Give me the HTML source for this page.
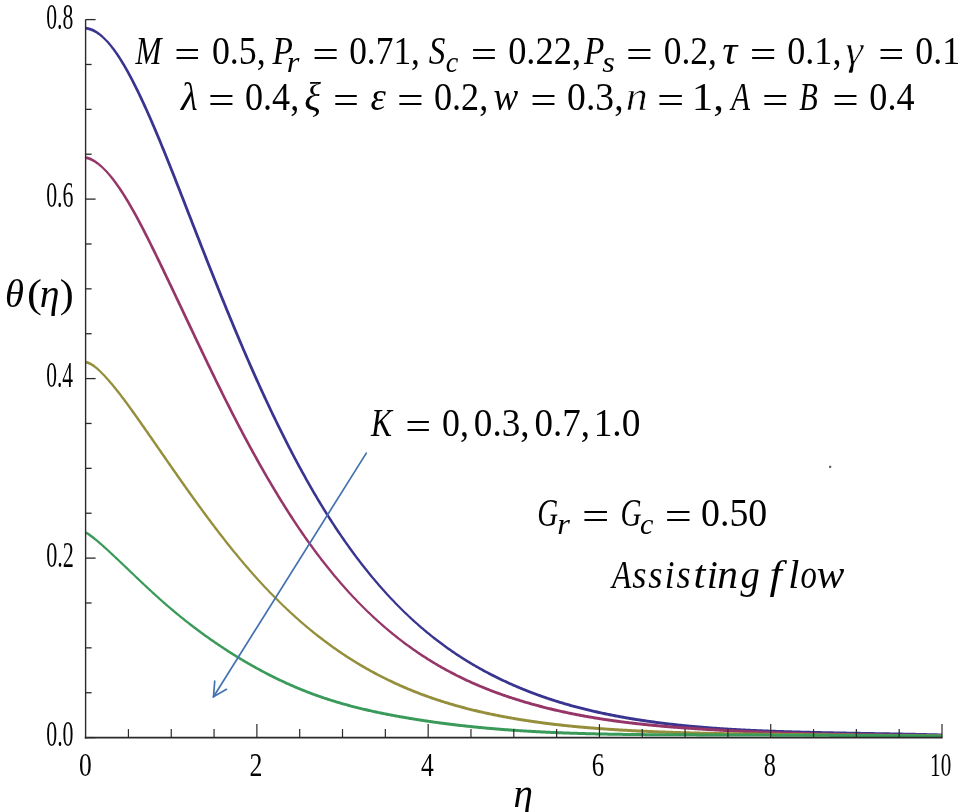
<!DOCTYPE html>
<html><head><meta charset="utf-8"><style>
html,body{margin:0;padding:0;background:#fff;}
svg{display:block;}
text{font-family:"Liberation Serif",serif;fill:#000;}
</style></head><body>
<svg width="968" height="812" viewBox="0 0 968 812">
<rect width="968" height="812" fill="#fff"/>
<path d="M86.21,26.73 L87.27,26.91 L88.33,27.15 L89.39,27.44 L90.44,27.78 L91.49,28.17 L92.53,28.61 L93.57,29.09 L94.61,29.62 L95.64,30.20 L96.66,30.82 L97.68,31.49 L98.70,32.20 L99.72,32.96 L100.73,33.76 L101.74,34.60 L102.74,35.48 L103.75,36.41 L104.75,37.38 L105.75,38.39 L106.78,39.41 L107.81,40.48 L108.84,41.58 L109.86,42.73 L110.89,43.92 L111.91,45.16 L112.93,46.43 L113.95,47.74 L114.97,49.09 L115.99,50.47 L117.01,51.89 L118.03,53.35 L119.04,54.84 L120.05,56.37 L121.07,57.93 L122.08,59.53 L123.09,61.16 L124.10,62.82 L125.11,64.51 L126.12,66.23 L127.13,67.98 L128.14,69.76 L129.15,71.57 L130.16,73.40 L131.17,75.27 L132.17,77.15 L133.18,79.07 L134.19,81.01 L135.19,82.97 L136.20,84.96 L137.20,86.97 L138.21,89.01 L139.21,91.06 L140.22,93.14 L141.22,95.24 L142.23,97.36 L143.23,99.49 L144.24,101.65 L145.24,103.82 L146.24,106.01 L147.25,108.22 L148.25,110.45 L149.25,112.69 L150.26,114.95 L151.26,117.23 L152.26,119.52 L153.26,121.83 L154.27,124.15 L155.27,126.48 L156.27,128.83 L157.27,131.20 L158.28,133.57 L159.28,135.96 L160.28,138.36 L161.28,140.78 L162.28,143.20 L163.28,145.64 L164.29,148.08 L165.29,150.54 L166.29,153.00 L167.29,155.48 L168.29,157.96 L169.29,160.45 L170.29,162.95 L171.29,165.46 L172.30,167.97 L173.30,170.49 L174.30,173.02 L175.30,175.55 L176.30,178.09 L177.30,180.63 L178.30,183.18 L179.30,185.73 L180.30,188.29 L181.30,190.85 L182.30,193.41 L183.30,195.98 L184.30,198.54 L185.30,201.11 L186.30,203.68 L187.30,206.25 L188.30,208.82 L189.30,211.39 L190.30,213.96 L191.30,216.53 L192.30,219.09 L193.30,221.66 L194.30,224.22 L195.30,226.79 L196.30,229.35 L197.30,231.91 L198.30,234.46 L199.30,237.02 L200.30,239.57 L201.30,242.12 L202.30,244.67 L203.30,247.21 L204.30,249.76 L205.30,252.30 L206.30,254.83 L207.30,257.37 L208.30,259.90 L209.30,262.42 L210.30,264.95 L211.30,267.47 L212.30,269.98 L213.29,272.49 L214.29,275.00 L215.29,277.51 L216.29,280.01 L217.29,282.50 L218.29,285.00 L219.29,287.48 L220.29,289.97 L221.29,292.45 L222.29,294.92 L223.29,297.39 L224.29,299.85 L225.29,302.31 L226.29,304.76 L227.29,307.21 L228.28,309.65 L229.28,312.09 L230.28,314.52 L231.28,316.94 L232.28,319.36 L233.28,321.77 L234.28,324.18 L235.28,326.58 L236.28,328.98 L237.28,331.36 L238.27,333.74 L239.27,336.12 L240.27,338.48 L241.27,340.84 L242.27,343.20 L243.27,345.54 L244.27,347.88 L245.27,350.21 L246.27,352.53 L247.26,354.85 L248.26,357.16 L249.26,359.45 L250.26,361.75 L251.26,364.03 L252.26,366.30 L253.26,368.57 L254.25,370.83 L255.25,373.08 L256.25,375.32 L257.25,377.55 L258.25,379.78 L259.25,381.99 L260.24,384.20 L261.24,386.40 L262.24,388.59 L263.24,390.78 L264.24,392.95 L265.24,395.11 L266.23,397.27 L267.23,399.42 L268.23,401.56 L269.23,403.69 L270.23,405.81 L271.23,407.93 L272.22,410.03 L273.22,412.13 L274.22,414.22 L275.22,416.30 L276.22,418.37 L277.21,420.43 L278.21,422.48 L279.21,424.53 L280.21,426.56 L281.21,428.59 L282.20,430.61 L283.20,432.62 L284.20,434.62 L285.20,436.61 L286.20,438.59 L287.19,440.56 L288.19,442.53 L289.19,444.48 L290.19,446.43 L291.18,448.37 L292.18,450.30 L293.18,452.22 L294.18,454.13 L295.17,456.03 L296.17,457.92 L297.17,459.80 L298.17,461.68 L299.16,463.54 L300.16,465.40 L301.16,467.24 L302.16,469.08 L303.15,470.91 L304.15,472.73 L305.15,474.54 L306.15,476.34 L307.14,478.13 L308.14,479.91 L309.14,481.69 L310.13,483.45 L311.13,485.20 L312.13,486.95 L313.13,488.68 L314.12,490.41 L315.12,492.13 L316.12,493.83 L317.11,495.53 L318.11,497.22 L319.11,498.90 L320.10,500.57 L321.10,502.23 L322.10,503.88 L323.09,505.52 L324.09,507.15 L325.09,508.77 L326.08,510.38 L327.08,511.99 L328.08,513.58 L329.07,515.17 L330.07,516.74 L331.06,518.31 L332.06,519.86 L333.06,521.41 L334.05,522.95 L335.05,524.48 L336.05,526.00 L337.04,527.51 L338.04,529.01 L339.03,530.51 L340.03,531.99 L341.03,533.47 L342.02,534.93 L343.02,536.39 L344.01,537.84 L345.01,539.28 L346.01,540.71 L347.00,542.14 L348.00,543.55 L348.99,544.96 L349.99,546.35 L350.99,547.74 L351.98,549.12 L352.98,550.49 L353.97,551.86 L354.97,553.21 L355.97,554.56 L356.96,555.89 L357.96,557.22 L358.95,558.54 L359.95,559.86 L360.94,561.16 L361.94,562.46 L362.93,563.75 L363.93,565.03 L364.93,566.30 L365.92,567.56 L366.92,568.82 L367.91,570.07 L368.91,571.31 L369.90,572.54 L370.90,573.76 L371.89,574.98 L372.89,576.19 L373.88,577.39 L374.88,578.58 L375.87,579.77 L376.87,580.95 L377.86,582.12 L378.86,583.28 L379.86,584.43 L380.85,585.58 L381.85,586.72 L382.84,587.85 L383.84,588.98 L384.83,590.10 L385.83,591.21 L386.82,592.31 L387.82,593.40 L388.81,594.49 L389.81,595.57 L390.80,596.65 L391.80,597.71 L392.79,598.77 L393.79,599.82 L394.78,600.87 L395.78,601.91 L396.77,602.94 L397.77,603.96 L398.76,604.98 L399.75,605.99 L400.75,606.99 L401.75,607.98 L402.75,608.96 L403.75,609.94 L404.75,610.91 L405.75,611.88 L406.75,612.83 L407.75,613.78 L408.75,614.73 L409.75,615.66 L410.75,616.59 L411.75,617.52 L412.75,618.44 L413.75,619.35 L414.75,620.25 L415.75,621.15 L416.75,622.04 L417.74,622.93 L418.74,623.81 L419.74,624.68 L420.74,625.54 L421.74,626.41 L422.74,627.26 L423.74,628.11 L424.74,628.95 L425.74,629.79 L426.74,630.62 L427.74,631.44 L428.74,632.26 L429.73,633.07 L430.73,633.87 L431.73,634.68 L432.73,635.47 L433.73,636.26 L434.73,637.04 L435.73,637.82 L436.73,638.59 L437.72,639.36 L438.72,640.12 L439.72,640.87 L440.72,641.62 L441.72,642.36 L442.72,643.10 L443.72,643.83 L444.71,644.56 L445.71,645.28 L446.71,646.00 L447.71,646.71 L448.71,647.42 L449.71,648.12 L450.70,648.81 L451.70,649.51 L452.70,650.19 L453.70,650.87 L454.70,651.55 L455.69,652.22 L456.69,652.88 L457.69,653.54 L458.69,654.20 L459.69,654.85 L460.68,655.49 L461.68,656.14 L462.68,656.77 L463.68,657.40 L464.68,658.03 L465.67,658.65 L466.67,659.27 L467.67,659.88 L468.67,660.49 L469.66,661.10 L470.66,661.69 L471.66,662.29 L472.66,662.88 L473.66,663.47 L474.65,664.05 L475.65,664.63 L476.65,665.20 L477.65,665.77 L478.64,666.33 L479.64,666.89 L480.64,667.45 L481.64,668.00 L482.63,668.55 L483.63,669.10 L484.63,669.64 L485.63,670.17 L486.62,670.70 L487.62,671.23 L488.62,671.76 L489.62,672.28 L490.61,672.80 L491.61,673.31 L492.61,673.82 L493.61,674.32 L494.60,674.83 L495.60,675.33 L496.60,675.82 L497.60,676.31 L498.59,676.80 L499.59,677.28 L500.59,677.77 L501.58,678.24 L502.58,678.72 L503.58,679.19 L504.58,679.66 L505.57,680.12 L506.57,680.58 L507.57,681.04 L508.57,681.49 L509.56,681.94 L510.56,682.39 L511.56,682.84 L512.56,683.28 L513.55,683.71 L514.55,684.15 L515.55,684.58 L516.54,685.01 L517.54,685.43 L518.54,685.86 L519.54,686.27 L520.53,686.69 L521.53,687.10 L522.53,687.51 L523.52,687.92 L524.52,688.32 L525.52,688.72 L526.52,689.12 L527.51,689.51 L528.51,689.91 L529.51,690.29 L530.50,690.68 L531.50,691.06 L532.50,691.44 L533.50,691.82 L534.49,692.19 L535.49,692.56 L536.49,692.93 L537.48,693.29 L538.48,693.66 L539.48,694.02 L540.48,694.37 L541.47,694.73 L542.47,695.08 L543.47,695.43 L544.46,695.77 L545.46,696.11 L546.46,696.46 L547.46,696.79 L548.45,697.13 L549.45,697.46 L550.45,697.79 L551.44,698.12 L552.44,698.44 L553.44,698.76 L554.44,699.08 L555.43,699.40 L556.43,699.71 L557.43,700.02 L558.42,700.33 L559.42,700.64 L560.42,700.94 L561.42,701.24 L562.41,701.54 L563.41,701.84 L564.41,702.13 L565.40,702.43 L566.40,702.71 L567.40,703.00 L568.40,703.29 L569.39,703.57 L570.39,703.85 L571.39,704.13 L572.38,704.40 L573.38,704.67 L574.38,704.95 L575.38,705.21 L576.37,705.48 L577.37,705.74 L578.37,706.01 L579.37,706.27 L580.36,706.52 L581.36,706.78 L582.36,707.03 L583.35,707.28 L584.35,707.53 L585.35,707.78 L586.35,708.03 L587.34,708.27 L588.34,708.51 L589.34,708.75 L590.34,708.98 L591.33,709.22 L592.33,709.45 L593.33,709.68 L594.33,709.91 L595.32,710.14 L596.32,710.36 L597.32,710.59 L598.32,710.81 L599.31,711.03 L600.31,711.25 L601.31,711.46 L602.31,711.68 L603.30,711.89 L604.30,712.10 L605.30,712.31 L606.30,712.51 L607.30,712.72 L608.29,712.92 L609.29,713.12 L610.29,713.32 L611.29,713.52 L612.28,713.72 L613.28,713.91 L614.28,714.11 L615.28,714.30 L616.28,714.49 L617.27,714.68 L618.27,714.86 L619.27,715.05 L620.27,715.23 L621.26,715.41 L622.26,715.60 L623.26,715.77 L624.26,715.95 L625.26,716.13 L626.25,716.30 L627.25,716.48 L628.25,716.65 L629.25,716.82 L630.25,716.99 L631.24,717.16 L632.24,717.32 L633.24,717.49 L634.24,717.65 L635.24,717.81 L636.23,717.97 L637.23,718.13 L638.23,718.29 L639.23,718.44 L640.23,718.60 L641.22,718.75 L642.22,718.90 L643.22,719.05 L644.22,719.20 L645.22,719.35 L646.22,719.50 L647.21,719.64 L648.21,719.79 L649.21,719.93 L650.21,720.07 L651.21,720.21 L652.20,720.35 L653.20,720.49 L654.20,720.62 L655.20,720.76 L656.20,720.89 L657.19,721.02 L658.19,721.16 L659.19,721.29 L660.19,721.41 L661.19,721.54 L662.19,721.67 L663.18,721.79 L664.18,721.92 L665.18,722.04 L666.18,722.16 L667.18,722.28 L668.18,722.40 L669.17,722.52 L670.17,722.63 L671.17,722.75 L672.17,722.86 L673.17,722.98 L674.17,723.09 L675.16,723.20 L676.16,723.31 L677.16,723.42 L678.16,723.52 L679.16,723.63 L680.16,723.74 L681.15,723.84 L682.15,723.94 L683.15,724.05 L684.15,724.15 L685.15,724.25 L686.15,724.35 L687.15,724.44 L688.14,724.54 L689.14,724.64 L690.14,724.73 L691.14,724.82 L692.14,724.92 L693.14,725.01 L694.13,725.10 L695.13,725.19 L696.13,725.28 L697.13,725.37 L698.13,725.45 L699.13,725.54 L700.13,725.62 L701.12,725.71 L702.12,725.79 L703.12,725.87 L704.12,725.96 L705.12,726.04 L706.12,726.12 L707.12,726.19 L708.12,726.27 L709.11,726.35 L710.11,726.42 L711.11,726.50 L712.11,726.57 L713.11,726.65 L714.11,726.72 L715.11,726.79 L716.11,726.86 L717.10,726.93 L718.10,727.00 L719.10,727.07 L720.10,727.14 L721.10,727.20 L722.10,727.27 L723.10,727.34 L724.10,727.40 L725.09,727.46 L726.09,727.53 L727.09,727.59 L728.09,727.65 L729.09,727.71 L730.09,727.77 L731.09,727.83 L732.09,727.89 L733.09,727.95 L734.09,728.01 L735.08,728.06 L736.08,728.12 L737.08,728.17 L738.08,728.23 L739.08,728.28 L740.08,728.33 L741.08,728.39 L742.08,728.44 L743.08,728.49 L744.08,728.54 L745.07,728.59 L746.07,728.64 L747.07,728.69 L748.07,728.74 L749.07,728.79 L750.07,728.83 L751.07,728.88 L752.07,728.93 L753.07,728.97 L754.07,729.02 L755.07,729.06 L756.07,729.10 L757.06,729.15 L758.06,729.19 L759.06,729.23 L760.06,729.27 L761.06,729.32 L762.06,729.36 L763.06,729.40 L764.06,729.44 L765.06,729.48 L766.06,729.51 L767.06,729.55 L768.06,729.59 L769.06,729.63 L770.06,729.67 L771.05,729.70 L772.05,729.74 L773.05,729.77 L774.05,729.81 L775.05,729.84 L776.05,729.88 L777.05,729.91 L778.05,729.95 L779.05,729.98 L780.05,730.01 L781.05,730.05 L782.05,730.08 L783.05,730.11 L784.05,730.14 L785.05,730.18 L786.05,730.21 L787.05,730.24 L788.05,730.27 L789.05,730.30 L790.04,730.33 L791.04,730.36 L792.04,730.39 L793.04,730.42 L794.04,730.45 L795.04,730.47 L796.04,730.50 L797.04,730.53 L798.04,730.56 L799.04,730.58 L800.04,730.61 L801.04,730.64 L802.04,730.66 L803.04,730.69 L804.04,730.72 L805.04,730.74 L806.04,730.77 L807.04,730.79 L808.04,730.82 L809.04,730.84 L810.04,730.87 L811.04,730.89 L812.04,730.91 L813.04,730.94 L814.04,730.96 L815.03,730.99 L816.03,731.01 L817.03,731.03 L818.03,731.05 L819.03,731.08 L820.03,731.10 L821.03,731.12 L822.03,731.14 L823.03,731.16 L824.03,731.19 L825.03,731.21 L826.03,731.23 L827.03,731.25 L828.03,731.27 L829.03,731.29 L830.03,731.31 L831.03,731.33 L832.03,731.35 L833.03,731.37 L834.03,731.39 L835.03,731.41 L836.03,731.43 L837.03,731.45 L838.03,731.47 L839.03,731.49 L840.03,731.51 L841.03,731.53 L842.03,731.55 L843.03,731.56 L844.03,731.58 L845.03,731.60 L846.03,731.62 L847.03,731.64 L848.03,731.66 L849.03,731.67 L850.03,731.69 L851.03,731.71 L852.03,731.73 L853.03,731.75 L854.03,731.76 L855.03,731.78 L856.03,731.80 L857.03,731.82 L858.03,731.83 L859.03,731.85 L860.03,731.87 L861.03,731.89 L862.03,731.90 L863.03,731.92 L864.03,731.94 L865.03,731.95 L866.03,731.97 L867.03,731.99 L868.03,732.01 L869.03,732.02 L870.03,732.04 L871.03,732.06 L872.03,732.07 L873.03,732.09 L874.03,732.11 L875.03,732.13 L876.03,732.14 L877.03,732.16 L878.03,732.18 L879.03,732.20 L880.03,732.21 L881.03,732.23 L882.03,732.25 L883.03,732.26 L884.03,732.28 L885.03,732.30 L886.03,732.32 L887.03,732.33 L888.03,732.35 L889.03,732.37 L890.03,732.39 L891.03,732.41 L892.03,732.42 L893.03,732.44 L894.03,732.46 L895.03,732.48 L896.03,732.50 L897.03,732.51 L898.03,732.53 L899.03,732.55 L900.03,732.57 L901.03,732.59 L902.03,732.61 L903.03,732.63 L904.03,732.65 L905.03,732.67 L906.03,732.68 L907.03,732.70 L908.03,732.72 L909.03,732.74 L910.03,732.76 L911.03,732.78 L912.03,732.80 L913.03,732.82 L914.03,732.84 L915.03,732.87 L916.03,732.89 L917.03,732.91 L918.03,732.93 L919.03,732.95 L920.03,732.97 L921.03,732.99 L922.03,733.02 L923.03,733.04 L924.03,733.06 L925.03,733.08 L926.03,733.11 L927.03,733.13 L928.03,733.15 L929.04,733.18 L930.04,733.20 L931.04,733.22 L932.04,733.25 L933.04,733.27 L934.04,733.30 L935.04,733.32 L936.04,733.35 L937.04,733.37 L938.04,733.40 L939.04,733.42 L940.04,733.45 L941.04,733.48 L942.04,733.50 L941.96,736.50 L940.96,736.47 L939.96,736.45 L938.96,736.42 L937.96,736.39 L936.96,736.37 L935.96,736.34 L934.96,736.32 L933.96,736.29 L932.96,736.27 L931.96,736.25 L930.96,736.22 L929.96,736.20 L928.96,736.17 L927.97,736.15 L926.97,736.13 L925.97,736.10 L924.97,736.08 L923.97,736.06 L922.97,736.04 L921.97,736.01 L920.97,735.99 L919.97,735.97 L918.97,735.95 L917.97,735.93 L916.97,735.91 L915.97,735.89 L914.97,735.86 L913.97,735.84 L912.97,735.82 L911.97,735.80 L910.97,735.78 L909.97,735.76 L908.97,735.74 L907.97,735.72 L906.97,735.70 L905.97,735.68 L904.97,735.66 L903.97,735.64 L902.97,735.63 L901.97,735.61 L900.97,735.59 L899.97,735.57 L898.97,735.55 L897.97,735.53 L896.97,735.51 L895.97,735.49 L894.97,735.48 L893.97,735.46 L892.97,735.44 L891.97,735.42 L890.97,735.40 L889.97,735.39 L888.97,735.37 L887.97,735.35 L886.97,735.33 L885.97,735.32 L884.97,735.30 L883.97,735.28 L882.97,735.26 L881.97,735.25 L880.97,735.23 L879.97,735.21 L878.97,735.19 L877.97,735.18 L876.97,735.16 L875.97,735.14 L874.97,735.13 L873.97,735.11 L872.97,735.09 L871.97,735.07 L870.97,735.06 L869.97,735.04 L868.97,735.02 L867.97,735.01 L866.97,734.99 L865.97,734.97 L864.97,734.95 L863.97,734.94 L862.97,734.92 L861.97,734.90 L860.97,734.88 L859.97,734.87 L858.97,734.85 L857.97,734.83 L856.97,734.82 L855.97,734.80 L854.97,734.78 L853.97,734.76 L852.97,734.74 L851.97,734.73 L850.97,734.71 L849.97,734.69 L848.97,734.67 L847.97,734.65 L846.97,734.64 L845.97,734.62 L844.97,734.60 L843.97,734.58 L842.97,734.56 L841.97,734.54 L840.97,734.53 L839.97,734.51 L838.97,734.49 L837.97,734.47 L836.97,734.45 L835.97,734.43 L834.97,734.41 L833.97,734.39 L832.97,734.37 L831.97,734.35 L830.97,734.33 L829.97,734.31 L828.97,734.29 L827.97,734.27 L826.97,734.25 L825.97,734.23 L824.97,734.21 L823.97,734.18 L822.97,734.16 L821.97,734.14 L820.97,734.12 L819.97,734.10 L818.97,734.07 L817.97,734.05 L816.97,734.03 L815.97,734.01 L814.97,733.98 L813.96,733.96 L812.96,733.94 L811.96,733.91 L810.96,733.89 L809.96,733.86 L808.96,733.84 L807.96,733.82 L806.96,733.79 L805.96,733.77 L804.96,733.74 L803.96,733.71 L802.96,733.69 L801.96,733.66 L800.96,733.64 L799.96,733.61 L798.96,733.58 L797.96,733.55 L796.96,733.53 L795.96,733.50 L794.96,733.47 L793.96,733.44 L792.96,733.41 L791.96,733.38 L790.96,733.36 L789.96,733.33 L788.95,733.30 L787.95,733.27 L786.95,733.23 L785.95,733.20 L784.95,733.17 L783.95,733.14 L782.95,733.11 L781.95,733.08 L780.95,733.04 L779.95,733.01 L778.95,732.98 L777.95,732.94 L776.95,732.91 L775.95,732.88 L774.95,732.84 L773.95,732.81 L772.95,732.77 L771.95,732.73 L770.95,732.70 L769.94,732.66 L768.94,732.62 L767.94,732.59 L766.94,732.55 L765.94,732.51 L764.94,732.47 L763.94,732.43 L762.94,732.39 L761.94,732.35 L760.94,732.31 L759.94,732.27 L758.94,732.23 L757.94,732.18 L756.94,732.14 L755.93,732.10 L754.93,732.05 L753.93,732.01 L752.93,731.96 L751.93,731.92 L750.93,731.87 L749.93,731.83 L748.93,731.78 L747.93,731.73 L746.93,731.68 L745.93,731.63 L744.93,731.58 L743.92,731.53 L742.92,731.48 L741.92,731.43 L740.92,731.38 L739.92,731.33 L738.92,731.27 L737.92,731.22 L736.92,731.16 L735.92,731.11 L734.92,731.05 L733.91,731.00 L732.91,730.94 L731.91,730.88 L730.91,730.82 L729.91,730.76 L728.91,730.70 L727.91,730.64 L726.91,730.58 L725.91,730.52 L724.91,730.45 L723.90,730.39 L722.90,730.32 L721.90,730.26 L720.90,730.19 L719.90,730.12 L718.90,730.06 L717.90,729.99 L716.90,729.92 L715.89,729.85 L714.89,729.78 L713.89,729.70 L712.89,729.63 L711.89,729.56 L710.89,729.48 L709.89,729.41 L708.89,729.33 L707.88,729.25 L706.88,729.18 L705.88,729.10 L704.88,729.02 L703.88,728.94 L702.88,728.85 L701.88,728.77 L700.88,728.69 L699.87,728.60 L698.87,728.52 L697.87,728.43 L696.87,728.34 L695.87,728.26 L694.87,728.17 L693.87,728.08 L692.86,727.98 L691.86,727.89 L690.86,727.80 L689.86,727.70 L688.86,727.61 L687.86,727.51 L686.85,727.41 L685.85,727.32 L684.85,727.22 L683.85,727.12 L682.85,727.01 L681.85,726.91 L680.85,726.81 L679.84,726.70 L678.84,726.60 L677.84,726.49 L676.84,726.38 L675.84,726.27 L674.84,726.16 L673.83,726.05 L672.83,725.94 L671.83,725.82 L670.83,725.71 L669.83,725.59 L668.83,725.48 L667.82,725.36 L666.82,725.24 L665.82,725.12 L664.82,724.99 L663.82,724.87 L662.82,724.75 L661.81,724.62 L660.81,724.49 L659.81,724.36 L658.81,724.24 L657.81,724.10 L656.81,723.97 L655.80,723.84 L654.80,723.70 L653.80,723.57 L652.80,723.43 L651.80,723.29 L650.79,723.15 L649.79,723.01 L648.79,722.87 L647.79,722.73 L646.79,722.58 L645.78,722.44 L644.78,722.29 L643.78,722.14 L642.78,721.99 L641.78,721.84 L640.78,721.68 L639.77,721.53 L638.77,721.37 L637.77,721.22 L636.77,721.06 L635.77,720.90 L634.76,720.73 L633.76,720.57 L632.76,720.41 L631.76,720.24 L630.76,720.07 L629.75,719.90 L628.75,719.73 L627.75,719.56 L626.75,719.39 L625.75,719.21 L624.74,719.04 L623.74,718.86 L622.74,718.68 L621.74,718.50 L620.74,718.32 L619.73,718.13 L618.73,717.95 L617.73,717.76 L616.73,717.57 L615.72,717.38 L614.72,717.19 L613.72,717.00 L612.72,716.80 L611.72,716.61 L610.71,716.41 L609.71,716.21 L608.71,716.01 L607.71,715.80 L606.70,715.60 L605.70,715.39 L604.70,715.18 L603.70,714.97 L602.70,714.76 L601.69,714.54 L600.69,714.33 L599.69,714.11 L598.69,713.89 L597.68,713.67 L596.68,713.44 L595.68,713.22 L594.68,712.99 L593.67,712.76 L592.67,712.53 L591.67,712.30 L590.67,712.06 L589.66,711.82 L588.66,711.59 L587.66,711.34 L586.66,711.10 L585.65,710.85 L584.65,710.61 L583.65,710.36 L582.65,710.11 L581.64,709.85 L580.64,709.60 L579.64,709.34 L578.63,709.08 L577.63,708.81 L576.63,708.55 L575.63,708.28 L574.62,708.01 L573.62,707.74 L572.62,707.47 L571.62,707.19 L570.61,706.91 L569.61,706.63 L568.61,706.35 L567.60,706.06 L566.60,705.77 L565.60,705.48 L564.60,705.19 L563.59,704.89 L562.59,704.60 L561.59,704.30 L560.58,703.99 L559.58,703.69 L558.58,703.38 L557.58,703.07 L556.57,702.76 L555.57,702.44 L554.57,702.12 L553.56,701.80 L552.56,701.48 L551.56,701.15 L550.56,700.83 L549.55,700.49 L548.55,700.16 L547.55,699.82 L546.54,699.48 L545.54,699.14 L544.54,698.80 L543.54,698.45 L542.53,698.10 L541.53,697.75 L540.53,697.39 L539.52,697.03 L538.52,696.67 L537.52,696.31 L536.52,695.94 L535.51,695.57 L534.51,695.20 L533.51,694.82 L532.50,694.44 L531.50,694.06 L530.50,693.68 L529.50,693.29 L528.49,692.90 L527.49,692.50 L526.49,692.11 L525.48,691.71 L524.48,691.31 L523.48,690.90 L522.48,690.49 L521.47,690.08 L520.47,689.66 L519.47,689.25 L518.46,688.82 L517.46,688.40 L516.46,687.97 L515.46,687.54 L514.45,687.11 L513.45,686.67 L512.45,686.23 L511.44,685.79 L510.44,685.34 L509.44,684.89 L508.44,684.43 L507.43,683.98 L506.43,683.52 L505.43,683.05 L504.43,682.59 L503.42,682.12 L502.42,681.64 L501.42,681.16 L500.42,680.68 L499.41,680.20 L498.41,679.71 L497.41,679.22 L496.40,678.73 L495.40,678.23 L494.40,677.72 L493.40,677.22 L492.39,676.71 L491.39,676.20 L490.39,675.68 L489.39,675.16 L488.38,674.63 L487.38,674.11 L486.38,673.57 L485.38,673.04 L484.37,672.50 L483.37,671.95 L482.37,671.41 L481.37,670.85 L480.36,670.30 L479.36,669.74 L478.36,669.17 L477.36,668.60 L476.35,668.03 L475.35,667.45 L474.35,666.87 L473.35,666.29 L472.34,665.70 L471.34,665.10 L470.34,664.50 L469.34,663.90 L468.34,663.29 L467.33,662.68 L466.33,662.06 L465.33,661.44 L464.33,660.81 L463.32,660.18 L462.32,659.54 L461.32,658.90 L460.32,658.26 L459.32,657.61 L458.31,656.95 L457.31,656.29 L456.31,655.63 L455.31,654.96 L454.31,654.28 L453.30,653.60 L452.30,652.92 L451.30,652.23 L450.30,651.53 L449.30,650.83 L448.29,650.13 L447.29,649.42 L446.29,648.70 L445.29,647.98 L444.29,647.25 L443.29,646.52 L442.28,645.78 L441.28,645.04 L440.28,644.29 L439.28,643.54 L438.28,642.78 L437.28,642.01 L436.28,641.24 L435.27,640.47 L434.27,639.68 L433.27,638.90 L432.27,638.10 L431.27,637.30 L430.27,636.50 L429.27,635.69 L428.27,634.87 L427.26,634.05 L426.26,633.22 L425.26,632.39 L424.26,631.55 L423.26,630.70 L422.26,629.85 L421.26,628.99 L420.26,628.13 L419.26,627.25 L418.26,626.38 L417.26,625.49 L416.26,624.60 L415.25,623.71 L414.25,622.81 L413.25,621.90 L412.25,620.98 L411.25,620.06 L410.25,619.13 L409.25,618.20 L408.25,617.26 L407.25,616.31 L406.25,615.36 L405.25,614.40 L404.25,613.43 L403.25,612.45 L402.25,611.47 L401.25,610.49 L400.25,609.49 L399.25,608.49 L398.25,607.49 L397.24,606.48 L396.23,605.46 L395.23,604.44 L394.22,603.40 L393.22,602.37 L392.21,601.32 L391.21,600.27 L390.20,599.21 L389.20,598.14 L388.19,597.07 L387.19,595.99 L386.18,594.90 L385.18,593.80 L384.17,592.70 L383.17,591.59 L382.16,590.47 L381.16,589.34 L380.15,588.21 L379.15,587.07 L378.14,585.92 L377.14,584.76 L376.14,583.60 L375.13,582.43 L374.13,581.25 L373.12,580.06 L372.12,578.87 L371.11,577.66 L370.11,576.45 L369.10,575.24 L368.10,574.01 L367.09,572.77 L366.09,571.53 L365.08,570.28 L364.08,569.02 L363.07,567.76 L362.07,566.48 L361.07,565.20 L360.06,563.91 L359.06,562.61 L358.05,561.30 L357.05,559.99 L356.04,558.67 L355.04,557.33 L354.03,555.99 L353.03,554.64 L352.03,553.29 L351.02,551.92 L350.02,550.55 L349.01,549.16 L348.01,547.77 L347.01,546.37 L346.00,544.97 L345.00,543.55 L343.99,542.12 L342.99,540.69 L341.99,539.24 L340.98,537.79 L339.98,536.33 L338.97,534.86 L337.97,533.38 L336.97,531.90 L335.96,530.40 L334.96,528.89 L333.95,527.38 L332.95,525.85 L331.95,524.32 L330.94,522.78 L329.94,521.23 L328.94,519.67 L327.93,518.10 L326.93,516.52 L325.92,514.93 L324.92,513.34 L323.92,511.73 L322.91,510.11 L321.91,508.49 L320.91,506.85 L319.90,505.21 L318.90,503.56 L317.90,501.89 L316.89,500.22 L315.89,498.54 L314.89,496.85 L313.88,495.14 L312.88,493.43 L311.88,491.71 L310.87,489.98 L309.87,488.24 L308.87,486.50 L307.87,484.74 L306.86,482.97 L305.86,481.20 L304.86,479.41 L303.85,477.61 L302.85,475.81 L301.85,474.00 L300.85,472.17 L299.84,470.34 L298.84,468.50 L297.84,466.65 L296.84,464.79 L295.83,462.92 L294.83,461.05 L293.83,459.16 L292.83,457.26 L291.82,455.36 L290.82,453.45 L289.82,451.52 L288.82,449.59 L287.81,447.65 L286.81,445.70 L285.81,443.74 L284.81,441.77 L283.80,439.80 L282.80,437.81 L281.80,435.82 L280.80,433.81 L279.80,431.80 L278.79,429.78 L277.79,427.75 L276.79,425.71 L275.79,423.66 L274.79,421.61 L273.78,419.54 L272.78,417.47 L271.78,415.39 L270.78,413.30 L269.78,411.20 L268.77,409.09 L267.77,406.97 L266.77,404.85 L265.77,402.71 L264.77,400.57 L263.77,398.42 L262.76,396.26 L261.76,394.09 L260.76,391.91 L259.76,389.73 L258.76,387.53 L257.76,385.33 L256.75,383.12 L255.75,380.90 L254.75,378.67 L253.75,376.44 L252.75,374.19 L251.75,371.94 L250.74,369.68 L249.74,367.41 L248.74,365.13 L247.74,362.85 L246.74,360.55 L245.74,358.25 L244.74,355.94 L243.73,353.62 L242.73,351.30 L241.73,348.97 L240.73,346.62 L239.73,344.28 L238.73,341.92 L237.73,339.56 L236.73,337.19 L235.73,334.82 L234.72,332.43 L233.72,330.04 L232.72,327.65 L231.72,325.25 L230.72,322.84 L229.72,320.42 L228.72,318.00 L227.72,315.57 L226.72,313.14 L225.72,310.70 L224.71,308.26 L223.71,305.81 L222.71,303.36 L221.71,300.90 L220.71,298.43 L219.71,295.96 L218.71,293.49 L217.71,291.01 L216.71,288.52 L215.71,286.03 L214.71,283.54 L213.71,281.04 L212.71,278.54 L211.71,276.04 L210.71,273.53 L209.70,271.01 L208.70,268.49 L207.70,265.97 L206.70,263.45 L205.70,260.92 L204.70,258.39 L203.70,255.86 L202.70,253.32 L201.70,250.78 L200.70,248.23 L199.70,245.69 L198.70,243.14 L197.70,240.59 L196.70,238.04 L195.70,235.48 L194.70,232.92 L193.70,230.36 L192.70,227.80 L191.70,225.24 L190.70,222.68 L189.70,220.11 L188.70,217.54 L187.70,214.97 L186.70,212.40 L185.70,209.83 L184.70,207.26 L183.70,204.69 L182.70,202.12 L181.70,199.56 L180.70,196.99 L179.70,194.43 L178.70,191.87 L177.70,189.31 L176.70,186.75 L175.70,184.20 L174.70,181.66 L173.70,179.11 L172.70,176.58 L171.70,174.05 L170.70,171.52 L169.70,169.00 L168.71,166.49 L167.71,163.98 L166.71,161.49 L165.71,159.00 L164.71,156.52 L163.71,154.05 L162.71,151.58 L161.71,149.13 L160.72,146.69 L159.72,144.26 L158.72,141.84 L157.72,139.43 L156.72,137.03 L155.72,134.65 L154.73,132.27 L153.73,129.91 L152.73,127.57 L151.73,125.24 L150.74,122.92 L149.74,120.62 L148.74,118.33 L147.74,116.06 L146.75,113.81 L145.75,111.57 L144.75,109.35 L143.76,107.14 L142.76,104.96 L141.76,102.79 L140.77,100.64 L139.77,98.51 L138.78,96.40 L137.78,94.31 L136.79,92.24 L135.79,90.19 L134.80,88.17 L133.80,86.16 L132.81,84.18 L131.81,82.23 L130.82,80.30 L129.83,78.39 L128.83,76.51 L127.84,74.66 L126.85,72.83 L125.86,71.04 L124.87,69.27 L123.88,67.53 L122.89,65.82 L121.90,64.14 L120.91,62.49 L119.92,60.88 L118.93,59.29 L117.95,57.74 L116.96,56.23 L115.97,54.75 L114.99,53.30 L114.01,51.89 L113.03,50.52 L112.05,49.18 L111.07,47.88 L110.09,46.62 L109.11,45.40 L108.14,44.22 L107.16,43.07 L106.19,41.97 L105.22,40.91 L104.25,39.89 L103.25,38.95 L102.25,38.05 L101.26,37.19 L100.26,36.38 L99.27,35.62 L98.28,34.90 L97.30,34.23 L96.32,33.61 L95.34,33.03 L94.36,32.49 L93.39,32.00 L92.43,31.56 L91.47,31.16 L90.51,30.80 L89.56,30.49 L88.61,30.22 L87.67,30.00 L86.73,29.81 L85.79,29.67Z" fill="#38348f" stroke="none"/>
<path d="M86.32,156.17 L87.38,156.46 L88.44,156.79 L89.49,157.18 L90.53,157.62 L91.57,158.10 L92.61,158.63 L93.64,159.21 L94.66,159.83 L95.68,160.49 L96.70,161.19 L97.71,161.93 L98.72,162.72 L99.73,163.54 L100.74,164.40 L101.74,165.29 L102.75,166.23 L103.75,167.20 L104.75,168.20 L105.77,169.22 L106.80,170.27 L107.82,171.35 L108.84,172.47 L109.86,173.63 L110.88,174.81 L111.90,176.03 L112.92,177.28 L113.94,178.56 L114.95,179.87 L115.97,181.21 L116.98,182.57 L118.00,183.97 L119.01,185.39 L120.02,186.85 L121.03,188.32 L122.04,189.83 L123.05,191.36 L124.06,192.91 L125.07,194.49 L126.08,196.09 L127.09,197.72 L128.10,199.36 L129.11,201.03 L130.11,202.72 L131.12,204.43 L132.13,206.17 L133.13,207.92 L134.14,209.69 L135.14,211.48 L136.15,213.28 L137.15,215.11 L138.16,216.95 L139.16,218.81 L140.17,220.68 L141.17,222.57 L142.18,224.47 L143.18,226.39 L144.18,228.32 L145.19,230.26 L146.19,232.22 L147.19,234.18 L148.20,236.16 L149.20,238.15 L150.20,240.15 L151.20,242.16 L152.20,244.18 L153.21,246.20 L154.21,248.23 L155.21,250.28 L156.21,252.32 L157.21,254.38 L158.21,256.43 L159.22,258.50 L160.22,260.57 L161.22,262.64 L162.22,264.71 L163.22,266.79 L164.22,268.87 L165.22,270.96 L166.22,273.05 L167.22,275.14 L168.22,277.23 L169.22,279.32 L170.22,281.42 L171.22,283.52 L172.22,285.62 L173.22,287.72 L174.22,289.83 L175.22,291.93 L176.22,294.04 L177.22,296.15 L178.22,298.26 L179.23,300.37 L180.23,302.48 L181.23,304.59 L182.23,306.71 L183.23,308.82 L184.23,310.93 L185.23,313.05 L186.23,315.16 L187.23,317.27 L188.23,319.39 L189.23,321.50 L190.23,323.61 L191.23,325.73 L192.23,327.84 L193.22,329.95 L194.22,332.06 L195.22,334.16 L196.22,336.27 L197.22,338.38 L198.22,340.48 L199.22,342.58 L200.22,344.68 L201.22,346.78 L202.22,348.87 L203.22,350.97 L204.22,353.06 L205.22,355.15 L206.22,357.23 L207.22,359.31 L208.22,361.39 L209.22,363.47 L210.22,365.54 L211.22,367.61 L212.22,369.68 L213.21,371.74 L214.21,373.80 L215.21,375.85 L216.21,377.90 L217.21,379.95 L218.21,381.99 L219.21,384.03 L220.21,386.06 L221.21,388.09 L222.21,390.11 L223.20,392.13 L224.20,394.14 L225.20,396.15 L226.20,398.15 L227.20,400.15 L228.20,402.14 L229.20,404.12 L230.19,406.10 L231.19,408.08 L232.19,410.04 L233.19,412.00 L234.19,413.96 L235.19,415.90 L236.18,417.84 L237.18,419.78 L238.18,421.71 L239.18,423.63 L240.18,425.54 L241.18,427.45 L242.17,429.35 L243.17,431.25 L244.17,433.14 L245.17,435.02 L246.17,436.89 L247.17,438.76 L248.16,440.62 L249.16,442.48 L250.16,444.33 L251.16,446.17 L252.16,448.01 L253.15,449.83 L254.15,451.66 L255.15,453.47 L256.15,455.28 L257.15,457.08 L258.14,458.87 L259.14,460.66 L260.14,462.44 L261.14,464.21 L262.14,465.98 L263.13,467.74 L264.13,469.49 L265.13,471.24 L266.13,472.97 L267.12,474.71 L268.12,476.43 L269.12,478.15 L270.12,479.85 L271.11,481.56 L272.11,483.25 L273.11,484.94 L274.11,486.62 L275.10,488.29 L276.10,489.96 L277.10,491.61 L278.10,493.27 L279.09,494.91 L280.09,496.54 L281.09,498.17 L282.09,499.79 L283.08,501.41 L284.08,503.01 L285.08,504.61 L286.07,506.20 L287.07,507.78 L288.07,509.36 L289.07,510.93 L290.06,512.49 L291.06,514.04 L292.06,515.58 L293.05,517.12 L294.05,518.65 L295.05,520.17 L296.04,521.68 L297.04,523.19 L298.04,524.69 L299.03,526.17 L300.03,527.66 L301.03,529.13 L302.02,530.60 L303.02,532.05 L304.02,533.50 L305.01,534.95 L306.01,536.38 L307.00,537.80 L308.00,539.22 L309.00,540.63 L309.99,542.03 L310.99,543.42 L311.98,544.81 L312.98,546.19 L313.98,547.55 L314.97,548.91 L315.97,550.27 L316.96,551.61 L317.96,552.95 L318.96,554.27 L319.95,555.59 L320.95,556.91 L321.94,558.21 L322.94,559.51 L323.93,560.80 L324.93,562.08 L325.93,563.35 L326.92,564.61 L327.92,565.87 L328.91,567.12 L329.91,568.36 L330.90,569.60 L331.90,570.83 L332.90,572.04 L333.89,573.26 L334.89,574.46 L335.88,575.66 L336.88,576.85 L337.87,578.03 L338.87,579.20 L339.86,580.37 L340.86,581.53 L341.85,582.68 L342.85,583.83 L343.84,584.97 L344.84,586.10 L345.84,587.22 L346.83,588.34 L347.83,589.45 L348.82,590.55 L349.82,591.65 L350.81,592.73 L351.81,593.82 L352.80,594.89 L353.80,595.96 L354.79,597.02 L355.79,598.07 L356.78,599.12 L357.78,600.16 L358.77,601.19 L359.77,602.22 L360.76,603.24 L361.76,604.25 L362.75,605.26 L363.75,606.26 L364.75,607.25 L365.75,608.23 L366.75,609.20 L367.75,610.17 L368.75,611.14 L369.75,612.09 L370.75,613.04 L371.75,613.98 L372.75,614.92 L373.75,615.85 L374.75,616.77 L375.75,617.69 L376.75,618.60 L377.75,619.51 L378.75,620.41 L379.75,621.30 L380.74,622.19 L381.74,623.07 L382.74,623.94 L383.74,624.81 L384.74,625.67 L385.74,626.53 L386.74,627.38 L387.74,628.23 L388.74,629.06 L389.74,629.90 L390.74,630.72 L391.74,631.55 L392.74,632.36 L393.73,633.17 L394.73,633.97 L395.73,634.77 L396.73,635.57 L397.73,636.35 L398.73,637.13 L399.73,637.91 L400.73,638.68 L401.72,639.45 L402.72,640.21 L403.72,640.96 L404.72,641.71 L405.72,642.45 L406.72,643.19 L407.72,643.92 L408.71,644.65 L409.71,645.37 L410.71,646.09 L411.71,646.80 L412.71,647.51 L413.71,648.21 L414.70,648.91 L415.70,649.60 L416.70,650.28 L417.70,650.96 L418.70,651.64 L419.69,652.31 L420.69,652.98 L421.69,653.64 L422.69,654.29 L423.69,654.95 L424.68,655.59 L425.68,656.23 L426.68,656.87 L427.68,657.50 L428.68,658.13 L429.67,658.75 L430.67,659.37 L431.67,659.98 L432.67,660.59 L433.66,661.20 L434.66,661.80 L435.66,662.39 L436.66,662.98 L437.66,663.57 L438.65,664.15 L439.65,664.73 L440.65,665.30 L441.65,665.87 L442.64,666.43 L443.64,666.99 L444.64,667.54 L445.64,668.09 L446.63,668.64 L447.63,669.18 L448.63,669.72 L449.62,670.26 L450.62,670.79 L451.62,671.31 L452.62,671.83 L453.61,672.35 L454.61,672.86 L455.61,673.37 L456.61,673.88 L457.60,674.38 L458.60,674.88 L459.60,675.37 L460.59,675.86 L461.59,676.35 L462.59,676.83 L463.59,677.31 L464.58,677.78 L465.58,678.25 L466.58,678.72 L467.57,679.18 L468.57,679.64 L469.57,680.10 L470.56,680.55 L471.56,681.00 L472.56,681.45 L473.56,681.89 L474.55,682.33 L475.55,682.76 L476.55,683.19 L477.54,683.62 L478.54,684.05 L479.54,684.47 L480.53,684.89 L481.53,685.30 L482.53,685.71 L483.53,686.12 L484.52,686.52 L485.52,686.93 L486.52,687.33 L487.51,687.72 L488.51,688.11 L489.51,688.50 L490.51,688.89 L491.50,689.27 L492.50,689.65 L493.50,690.03 L494.49,690.40 L495.49,690.77 L496.49,691.14 L497.48,691.51 L498.48,691.87 L499.48,692.23 L500.48,692.59 L501.47,692.94 L502.47,693.29 L503.47,693.64 L504.46,693.99 L505.46,694.33 L506.46,694.67 L507.46,695.01 L508.45,695.34 L509.45,695.68 L510.45,696.01 L511.44,696.33 L512.44,696.66 L513.44,696.98 L514.44,697.30 L515.43,697.62 L516.43,697.94 L517.43,698.25 L518.43,698.56 L519.42,698.87 L520.42,699.18 L521.42,699.48 L522.42,699.78 L523.41,700.08 L524.41,700.38 L525.41,700.68 L526.41,700.97 L527.40,701.26 L528.40,701.55 L529.40,701.84 L530.40,702.12 L531.39,702.40 L532.39,702.68 L533.39,702.96 L534.39,703.24 L535.38,703.51 L536.38,703.78 L537.38,704.05 L538.37,704.32 L539.37,704.58 L540.37,704.85 L541.37,705.11 L542.36,705.37 L543.36,705.63 L544.36,705.88 L545.36,706.13 L546.35,706.38 L547.35,706.63 L548.35,706.88 L549.35,707.13 L550.34,707.37 L551.34,707.61 L552.34,707.85 L553.34,708.09 L554.34,708.32 L555.33,708.56 L556.33,708.79 L557.33,709.02 L558.33,709.25 L559.32,709.47 L560.32,709.70 L561.32,709.92 L562.32,710.14 L563.31,710.36 L564.31,710.58 L565.31,710.79 L566.31,711.00 L567.30,711.22 L568.30,711.43 L569.30,711.63 L570.30,711.84 L571.29,712.05 L572.29,712.25 L573.29,712.45 L574.29,712.65 L575.29,712.85 L576.28,713.04 L577.28,713.24 L578.28,713.43 L579.28,713.62 L580.27,713.81 L581.27,714.00 L582.27,714.18 L583.27,714.37 L584.27,714.55 L585.26,714.73 L586.26,714.91 L587.26,715.09 L588.26,715.26 L589.25,715.44 L590.25,715.61 L591.25,715.78 L592.25,715.95 L593.25,716.12 L594.24,716.29 L595.24,716.46 L596.24,716.62 L597.24,716.78 L598.24,716.94 L599.23,717.10 L600.23,717.26 L601.23,717.42 L602.23,717.57 L603.23,717.73 L604.22,717.88 L605.22,718.03 L606.22,718.18 L607.22,718.33 L608.22,718.48 L609.21,718.62 L610.21,718.77 L611.21,718.91 L612.21,719.05 L613.21,719.19 L614.20,719.33 L615.20,719.47 L616.20,719.60 L617.20,719.74 L618.20,719.87 L619.20,720.01 L620.19,720.14 L621.19,720.27 L622.19,720.40 L623.19,720.52 L624.19,720.65 L625.18,720.78 L626.18,720.90 L627.18,721.02 L628.18,721.14 L629.18,721.26 L630.18,721.38 L631.17,721.50 L632.17,721.62 L633.17,721.73 L634.17,721.85 L635.17,721.96 L636.17,722.08 L637.17,722.19 L638.16,722.30 L639.16,722.41 L640.16,722.52 L641.16,722.62 L642.16,722.73 L643.16,722.83 L644.15,722.94 L645.15,723.04 L646.15,723.14 L647.15,723.25 L648.15,723.35 L649.15,723.45 L650.15,723.54 L651.14,723.64 L652.14,723.74 L653.14,723.83 L654.14,723.93 L655.14,724.02 L656.14,724.12 L657.14,724.21 L658.14,724.30 L659.13,724.39 L660.13,724.48 L661.13,724.57 L662.13,724.65 L663.13,724.74 L664.13,724.83 L665.13,724.91 L666.13,725.00 L667.12,725.08 L668.12,725.16 L669.12,725.25 L670.12,725.33 L671.12,725.41 L672.12,725.49 L673.12,725.57 L674.12,725.65 L675.12,725.73 L676.12,725.80 L677.11,725.88 L678.11,725.96 L679.11,726.03 L680.11,726.11 L681.11,726.18 L682.11,726.25 L683.11,726.33 L684.11,726.40 L685.11,726.47 L686.11,726.54 L687.10,726.61 L688.10,726.68 L689.10,726.75 L690.10,726.82 L691.10,726.89 L692.10,726.96 L693.10,727.02 L694.10,727.09 L695.10,727.16 L696.10,727.22 L697.10,727.29 L698.10,727.35 L699.10,727.42 L700.10,727.48 L701.09,727.54 L702.09,727.61 L703.09,727.67 L704.09,727.73 L705.09,727.79 L706.09,727.85 L707.09,727.91 L708.09,727.97 L709.09,728.03 L710.09,728.09 L711.09,728.15 L712.09,728.21 L713.09,728.27 L714.09,728.33 L715.09,728.39 L716.09,728.44 L717.08,728.50 L718.08,728.56 L719.08,728.61 L720.08,728.67 L721.08,728.72 L722.08,728.78 L723.08,728.83 L724.08,728.89 L725.08,728.94 L726.08,728.99 L727.08,729.05 L728.08,729.10 L729.08,729.15 L730.08,729.20 L731.08,729.25 L732.08,729.30 L733.08,729.35 L734.07,729.40 L735.07,729.45 L736.07,729.50 L737.07,729.55 L738.07,729.60 L739.07,729.65 L740.07,729.70 L741.07,729.74 L742.07,729.79 L743.07,729.84 L744.07,729.88 L745.07,729.93 L746.07,729.98 L747.07,730.02 L748.07,730.07 L749.07,730.11 L750.07,730.15 L751.07,730.20 L752.06,730.24 L753.06,730.28 L754.06,730.33 L755.06,730.37 L756.06,730.41 L757.06,730.45 L758.06,730.50 L759.06,730.54 L760.06,730.58 L761.06,730.62 L762.06,730.66 L763.06,730.70 L764.06,730.74 L765.06,730.78 L766.06,730.81 L767.06,730.85 L768.06,730.89 L769.06,730.93 L770.06,730.97 L771.06,731.00 L772.05,731.04 L773.05,731.08 L774.05,731.11 L775.05,731.15 L776.05,731.18 L777.05,731.22 L778.05,731.25 L779.05,731.29 L780.05,731.32 L781.05,731.36 L782.05,731.39 L783.05,731.42 L784.05,731.46 L785.05,731.49 L786.05,731.52 L787.05,731.55 L788.05,731.59 L789.05,731.62 L790.05,731.65 L791.05,731.68 L792.05,731.71 L793.05,731.74 L794.05,731.77 L795.04,731.80 L796.04,731.83 L797.04,731.86 L798.04,731.89 L799.04,731.92 L800.04,731.95 L801.04,731.97 L802.04,732.00 L803.04,732.03 L804.04,732.06 L805.04,732.08 L806.04,732.11 L807.04,732.14 L808.04,732.16 L809.04,732.19 L810.04,732.22 L811.04,732.24 L812.04,732.27 L813.04,732.29 L814.04,732.32 L815.04,732.34 L816.04,732.37 L817.04,732.39 L818.04,732.41 L819.04,732.44 L820.03,732.46 L821.03,732.48 L822.03,732.51 L823.03,732.53 L824.03,732.55 L825.03,732.57 L826.03,732.60 L827.03,732.62 L828.03,732.64 L829.03,732.66 L830.03,732.68 L831.03,732.70 L832.03,732.72 L833.03,732.74 L834.03,732.76 L835.03,732.78 L836.03,732.80 L837.03,732.82 L838.03,732.84 L839.03,732.86 L840.03,732.88 L841.03,732.90 L842.03,732.92 L843.03,732.94 L844.03,732.95 L845.03,732.97 L846.03,732.99 L847.03,733.01 L848.03,733.02 L849.03,733.04 L850.03,733.06 L851.02,733.07 L852.02,733.09 L853.02,733.11 L854.02,733.12 L855.02,733.14 L856.02,733.15 L857.02,733.17 L858.02,733.19 L859.02,733.20 L860.02,733.22 L861.02,733.23 L862.02,733.24 L863.02,733.26 L864.02,733.27 L865.02,733.29 L866.02,733.30 L867.02,733.32 L868.02,733.33 L869.02,733.34 L870.02,733.36 L871.02,733.37 L872.02,733.38 L873.02,733.40 L874.02,733.41 L875.02,733.42 L876.02,733.43 L877.02,733.45 L878.02,733.46 L879.02,733.47 L880.02,733.48 L881.02,733.49 L882.02,733.50 L883.02,733.52 L884.02,733.53 L885.02,733.54 L886.02,733.55 L887.02,733.56 L888.02,733.57 L889.02,733.58 L890.02,733.59 L891.02,733.60 L892.02,733.61 L893.02,733.62 L894.01,733.63 L895.01,733.64 L896.01,733.65 L897.01,733.66 L898.01,733.67 L899.01,733.68 L900.01,733.69 L901.01,733.70 L902.01,733.71 L903.01,733.72 L904.01,733.73 L905.01,733.73 L906.01,733.74 L907.01,733.75 L908.01,733.76 L909.01,733.77 L910.01,733.78 L911.01,733.78 L912.01,733.79 L913.01,733.80 L914.01,733.81 L915.01,733.82 L916.01,733.82 L917.01,733.83 L918.01,733.84 L919.01,733.85 L920.01,733.85 L921.01,733.86 L922.01,733.87 L923.01,733.87 L924.01,733.88 L925.01,733.89 L926.01,733.90 L927.01,733.90 L928.01,733.91 L929.01,733.92 L930.01,733.92 L931.01,733.93 L932.01,733.94 L933.01,733.94 L934.01,733.95 L935.01,733.95 L936.01,733.96 L937.01,733.97 L938.01,733.97 L939.01,733.98 L940.01,733.99 L941.01,733.99 L942.01,734.00 L941.99,737.00 L940.99,736.99 L939.99,736.99 L938.99,736.98 L937.99,736.97 L936.99,736.97 L935.99,736.96 L934.99,736.95 L933.99,736.95 L932.99,736.94 L931.99,736.94 L930.99,736.93 L929.99,736.92 L928.99,736.92 L927.99,736.91 L926.99,736.90 L925.99,736.90 L924.99,736.89 L923.99,736.88 L922.99,736.87 L921.99,736.87 L920.99,736.86 L919.99,736.85 L918.99,736.85 L917.99,736.84 L916.99,736.83 L915.99,736.82 L914.99,736.82 L913.99,736.81 L912.99,736.80 L911.99,736.79 L910.99,736.78 L909.99,736.78 L908.99,736.77 L907.99,736.76 L906.99,736.75 L905.99,736.74 L904.99,736.73 L903.99,736.72 L902.99,736.72 L901.99,736.71 L900.99,736.70 L899.99,736.69 L898.99,736.68 L897.99,736.67 L896.99,736.66 L895.99,736.65 L894.99,736.64 L893.99,736.63 L892.98,736.62 L891.98,736.61 L890.98,736.60 L889.98,736.59 L888.98,736.58 L887.98,736.57 L886.98,736.56 L885.98,736.55 L884.98,736.54 L883.98,736.53 L882.98,736.52 L881.98,736.50 L880.98,736.49 L879.98,736.48 L878.98,736.47 L877.98,736.46 L876.98,736.44 L875.98,736.43 L874.98,736.42 L873.98,736.41 L872.98,736.39 L871.98,736.38 L870.98,736.37 L869.98,736.36 L868.98,736.34 L867.98,736.33 L866.98,736.32 L865.98,736.30 L864.98,736.29 L863.98,736.27 L862.98,736.26 L861.98,736.24 L860.98,736.23 L859.98,736.21 L858.98,736.20 L857.98,736.18 L856.98,736.17 L855.98,736.15 L854.98,736.14 L853.98,736.12 L852.98,736.11 L851.98,736.09 L850.98,736.07 L849.97,736.06 L848.97,736.04 L847.97,736.02 L846.97,736.01 L845.97,735.99 L844.97,735.97 L843.97,735.95 L842.97,735.93 L841.97,735.92 L840.97,735.90 L839.97,735.88 L838.97,735.86 L837.97,735.84 L836.97,735.82 L835.97,735.80 L834.97,735.78 L833.97,735.76 L832.97,735.74 L831.97,735.72 L830.97,735.70 L829.97,735.68 L828.97,735.66 L827.97,735.64 L826.97,735.62 L825.97,735.59 L824.97,735.57 L823.97,735.55 L822.97,735.53 L821.97,735.51 L820.97,735.48 L819.97,735.46 L818.96,735.44 L817.96,735.41 L816.96,735.39 L815.96,735.36 L814.96,735.34 L813.96,735.32 L812.96,735.29 L811.96,735.27 L810.96,735.24 L809.96,735.21 L808.96,735.19 L807.96,735.16 L806.96,735.14 L805.96,735.11 L804.96,735.08 L803.96,735.06 L802.96,735.03 L801.96,735.00 L800.96,734.97 L799.96,734.94 L798.96,734.92 L797.96,734.89 L796.96,734.86 L795.96,734.83 L794.96,734.80 L793.95,734.77 L792.95,734.74 L791.95,734.71 L790.95,734.68 L789.95,734.65 L788.95,734.61 L787.95,734.58 L786.95,734.55 L785.95,734.52 L784.95,734.49 L783.95,734.45 L782.95,734.42 L781.95,734.39 L780.95,734.35 L779.95,734.32 L778.95,734.28 L777.95,734.25 L776.95,734.22 L775.95,734.18 L774.95,734.14 L773.95,734.11 L772.95,734.07 L771.95,734.04 L770.94,734.00 L769.94,733.96 L768.94,733.92 L767.94,733.89 L766.94,733.85 L765.94,733.81 L764.94,733.77 L763.94,733.73 L762.94,733.69 L761.94,733.65 L760.94,733.61 L759.94,733.57 L758.94,733.53 L757.94,733.49 L756.94,733.45 L755.94,733.41 L754.94,733.36 L753.94,733.32 L752.94,733.28 L751.94,733.24 L750.93,733.19 L749.93,733.15 L748.93,733.10 L747.93,733.06 L746.93,733.01 L745.93,732.97 L744.93,732.92 L743.93,732.88 L742.93,732.83 L741.93,732.78 L740.93,732.74 L739.93,732.69 L738.93,732.64 L737.93,732.59 L736.93,732.54 L735.93,732.50 L734.93,732.45 L733.93,732.40 L732.92,732.35 L731.92,732.30 L730.92,732.24 L729.92,732.19 L728.92,732.14 L727.92,732.09 L726.92,732.04 L725.92,731.98 L724.92,731.93 L723.92,731.88 L722.92,731.82 L721.92,731.77 L720.92,731.71 L719.92,731.66 L718.92,731.60 L717.92,731.55 L716.92,731.49 L715.91,731.43 L714.91,731.38 L713.91,731.32 L712.91,731.26 L711.91,731.20 L710.91,731.14 L709.91,731.08 L708.91,731.02 L707.91,730.96 L706.91,730.90 L705.91,730.84 L704.91,730.78 L703.91,730.72 L702.91,730.66 L701.91,730.59 L700.91,730.53 L699.90,730.47 L698.90,730.40 L697.90,730.34 L696.90,730.27 L695.90,730.21 L694.90,730.14 L693.90,730.08 L692.90,730.01 L691.90,729.94 L690.90,729.87 L689.90,729.81 L688.90,729.74 L687.90,729.67 L686.90,729.60 L685.89,729.53 L684.89,729.45 L683.89,729.38 L682.89,729.31 L681.89,729.24 L680.89,729.16 L679.89,729.09 L678.89,729.01 L677.89,728.94 L676.89,728.86 L675.88,728.79 L674.88,728.71 L673.88,728.63 L672.88,728.55 L671.88,728.47 L670.88,728.39 L669.88,728.31 L668.88,728.23 L667.88,728.14 L666.88,728.06 L665.87,727.98 L664.87,727.89 L663.87,727.81 L662.87,727.72 L661.87,727.63 L660.87,727.54 L659.87,727.45 L658.87,727.36 L657.86,727.27 L656.86,727.18 L655.86,727.09 L654.86,727.00 L653.86,726.90 L652.86,726.81 L651.86,726.71 L650.86,726.61 L649.85,726.52 L648.85,726.42 L647.85,726.32 L646.85,726.22 L645.85,726.11 L644.85,726.01 L643.85,725.91 L642.84,725.80 L641.84,725.70 L640.84,725.59 L639.84,725.48 L638.84,725.37 L637.84,725.26 L636.83,725.15 L635.83,725.04 L634.83,724.92 L633.83,724.81 L632.83,724.69 L631.83,724.58 L630.83,724.46 L629.82,724.34 L628.82,724.22 L627.82,724.10 L626.82,723.98 L625.82,723.85 L624.82,723.73 L623.81,723.60 L622.81,723.48 L621.81,723.35 L620.81,723.22 L619.81,723.09 L618.80,722.95 L617.80,722.82 L616.80,722.69 L615.80,722.55 L614.80,722.41 L613.80,722.27 L612.79,722.13 L611.79,721.99 L610.79,721.85 L609.79,721.71 L608.79,721.56 L607.78,721.41 L606.78,721.27 L605.78,721.12 L604.78,720.96 L603.78,720.81 L602.77,720.66 L601.77,720.50 L600.77,720.35 L599.77,720.19 L598.77,720.03 L597.76,719.87 L596.76,719.71 L595.76,719.54 L594.76,719.38 L593.76,719.21 L592.75,719.04 L591.75,718.87 L590.75,718.70 L589.75,718.53 L588.75,718.35 L587.74,718.17 L586.74,718.00 L585.74,717.82 L584.74,717.64 L583.73,717.45 L582.73,717.27 L581.73,717.08 L580.73,716.89 L579.73,716.71 L578.72,716.51 L577.72,716.32 L576.72,716.13 L575.72,715.93 L574.71,715.73 L573.71,715.53 L572.71,715.33 L571.71,715.13 L570.71,714.92 L569.70,714.72 L568.70,714.51 L567.70,714.30 L566.70,714.09 L565.69,713.87 L564.69,713.66 L563.69,713.44 L562.69,713.22 L561.68,713.00 L560.68,712.78 L559.68,712.55 L558.68,712.33 L557.67,712.10 L556.67,711.87 L555.67,711.64 L554.67,711.40 L553.66,711.17 L552.66,710.93 L551.66,710.69 L550.66,710.45 L549.66,710.20 L548.65,709.96 L547.65,709.71 L546.65,709.46 L545.65,709.21 L544.64,708.95 L543.64,708.70 L542.64,708.44 L541.64,708.18 L540.63,707.92 L539.63,707.65 L538.63,707.39 L537.63,707.12 L536.62,706.85 L535.62,706.57 L534.62,706.30 L533.61,706.02 L532.61,705.74 L531.61,705.46 L530.61,705.18 L529.60,704.89 L528.60,704.61 L527.60,704.32 L526.60,704.03 L525.59,703.73 L524.59,703.43 L523.59,703.14 L522.59,702.83 L521.58,702.53 L520.58,702.23 L519.58,701.92 L518.58,701.61 L517.57,701.30 L516.57,700.98 L515.57,700.66 L514.57,700.34 L513.56,700.02 L512.56,699.70 L511.56,699.37 L510.56,699.04 L509.55,698.71 L508.55,698.38 L507.55,698.04 L506.54,697.70 L505.54,697.36 L504.54,697.01 L503.54,696.66 L502.53,696.31 L501.53,695.96 L500.53,695.60 L499.52,695.25 L498.52,694.88 L497.52,694.52 L496.52,694.15 L495.51,693.78 L494.51,693.41 L493.51,693.03 L492.50,692.65 L491.50,692.27 L490.50,691.89 L489.49,691.50 L488.49,691.11 L487.49,690.71 L486.49,690.31 L485.48,689.91 L484.48,689.51 L483.48,689.10 L482.47,688.69 L481.47,688.28 L480.47,687.86 L479.47,687.44 L478.46,687.01 L477.46,686.59 L476.46,686.15 L475.45,685.72 L474.45,685.28 L473.45,684.84 L472.44,684.40 L471.44,683.95 L470.44,683.50 L469.44,683.04 L468.43,682.58 L467.43,682.12 L466.43,681.65 L465.42,681.18 L464.42,680.71 L463.42,680.23 L462.41,679.75 L461.41,679.26 L460.41,678.77 L459.41,678.28 L458.40,677.78 L457.40,677.28 L456.40,676.77 L455.39,676.26 L454.39,675.75 L453.39,675.23 L452.39,674.71 L451.38,674.19 L450.38,673.66 L449.38,673.12 L448.38,672.59 L447.37,672.04 L446.37,671.50 L445.37,670.95 L444.36,670.39 L443.36,669.83 L442.36,669.27 L441.36,668.70 L440.35,668.13 L439.35,667.55 L438.35,666.97 L437.35,666.39 L436.34,665.80 L435.34,665.20 L434.34,664.60 L433.34,664.00 L432.34,663.39 L431.33,662.78 L430.33,662.16 L429.33,661.54 L428.33,660.91 L427.32,660.28 L426.32,659.64 L425.32,659.00 L424.32,658.35 L423.32,657.70 L422.31,657.05 L421.31,656.39 L420.31,655.72 L419.31,655.05 L418.31,654.38 L417.30,653.69 L416.30,653.01 L415.30,652.32 L414.30,651.62 L413.30,650.92 L412.29,650.22 L411.29,649.50 L410.29,648.79 L409.29,648.07 L408.29,647.34 L407.29,646.61 L406.28,645.87 L405.28,645.13 L404.28,644.38 L403.28,643.63 L402.28,642.87 L401.28,642.10 L400.28,641.33 L399.27,640.56 L398.27,639.78 L397.27,638.99 L396.27,638.20 L395.27,637.40 L394.27,636.60 L393.27,635.79 L392.27,634.98 L391.26,634.16 L390.26,633.33 L389.26,632.50 L388.26,631.66 L387.26,630.82 L386.26,629.97 L385.26,629.12 L384.26,628.26 L383.26,627.39 L382.26,626.52 L381.26,625.64 L380.26,624.75 L379.26,623.86 L378.25,622.97 L377.25,622.06 L376.25,621.15 L375.25,620.24 L374.25,619.32 L373.25,618.39 L372.25,617.46 L371.25,616.52 L370.25,615.57 L369.25,614.62 L368.25,613.66 L367.25,612.69 L366.25,611.72 L365.25,610.74 L364.25,609.75 L363.25,608.76 L362.25,607.76 L361.25,606.76 L360.24,605.75 L359.24,604.74 L358.23,603.72 L357.23,602.69 L356.22,601.66 L355.22,600.62 L354.21,599.57 L353.21,598.52 L352.20,597.46 L351.20,596.39 L350.19,595.31 L349.19,594.23 L348.18,593.14 L347.18,592.04 L346.17,590.94 L345.17,589.83 L344.16,588.71 L343.16,587.59 L342.16,586.46 L341.15,585.32 L340.15,584.17 L339.14,583.02 L338.14,581.85 L337.13,580.69 L336.13,579.51 L335.12,578.33 L334.12,577.13 L333.11,575.94 L332.11,574.73 L331.10,573.52 L330.10,572.30 L329.10,571.07 L328.09,569.83 L327.09,568.59 L326.08,567.33 L325.08,566.07 L324.07,564.81 L323.07,563.53 L322.07,562.25 L321.06,560.96 L320.06,559.66 L319.05,558.35 L318.05,557.04 L317.04,555.72 L316.04,554.39 L315.04,553.05 L314.03,551.70 L313.03,550.35 L312.02,548.98 L311.02,547.61 L310.02,546.23 L309.01,544.85 L308.01,543.45 L307.00,542.05 L306.00,540.64 L305.00,539.22 L303.99,537.79 L302.99,536.35 L301.98,534.91 L300.98,533.45 L299.98,531.99 L298.97,530.53 L297.97,529.05 L296.97,527.56 L295.96,526.07 L294.96,524.57 L293.96,523.06 L292.95,521.55 L291.95,520.02 L290.95,518.49 L289.94,516.95 L288.94,515.40 L287.94,513.85 L286.93,512.29 L285.93,510.72 L284.93,509.14 L283.93,507.55 L282.92,505.96 L281.92,504.36 L280.92,502.75 L279.91,501.13 L278.91,499.51 L277.91,497.88 L276.91,496.24 L275.90,494.60 L274.90,492.94 L273.90,491.28 L272.90,489.61 L271.89,487.94 L270.89,486.25 L269.89,484.56 L268.89,482.87 L267.88,481.16 L266.88,479.45 L265.88,477.73 L264.88,476.01 L263.87,474.27 L262.87,472.53 L261.87,470.78 L260.87,469.03 L259.86,467.27 L258.86,465.50 L257.86,463.72 L256.86,461.94 L255.86,460.15 L254.85,458.35 L253.85,456.55 L252.85,454.74 L251.85,452.92 L250.85,451.10 L249.84,449.27 L248.84,447.43 L247.84,445.59 L246.84,443.73 L245.84,441.88 L244.83,440.01 L243.83,438.14 L242.83,436.26 L241.83,434.38 L240.83,432.49 L239.83,430.59 L238.82,428.68 L237.82,426.77 L236.82,424.86 L235.82,422.93 L234.82,421.00 L233.82,419.07 L232.81,417.12 L231.81,415.17 L230.81,413.22 L229.81,411.26 L228.81,409.29 L227.81,407.31 L226.80,405.33 L225.80,403.34 L224.80,401.35 L223.80,399.35 L222.80,397.35 L221.80,395.34 L220.80,393.33 L219.79,391.31 L218.79,389.28 L217.79,387.25 L216.79,385.22 L215.79,383.18 L214.79,381.13 L213.79,379.09 L212.79,377.03 L211.79,374.98 L210.79,372.92 L209.78,370.86 L208.78,368.79 L207.78,366.72 L206.78,364.64 L205.78,362.57 L204.78,360.48 L203.78,358.40 L202.78,356.31 L201.78,354.23 L200.78,352.13 L199.78,350.04 L198.78,347.94 L197.78,345.85 L196.78,343.74 L195.78,341.64 L194.78,339.54 L193.78,337.43 L192.78,335.33 L191.78,333.22 L190.78,331.11 L189.77,329.00 L188.77,326.89 L187.77,324.77 L186.77,322.66 L185.77,320.55 L184.77,318.43 L183.77,316.32 L182.77,314.21 L181.77,312.09 L180.77,309.98 L179.77,307.87 L178.77,305.75 L177.77,303.64 L176.77,301.53 L175.78,299.42 L174.78,297.31 L173.78,295.20 L172.78,293.10 L171.78,290.99 L170.78,288.89 L169.78,286.78 L168.78,284.68 L167.78,282.58 L166.78,280.49 L165.78,278.39 L164.78,276.30 L163.78,274.21 L162.78,272.13 L161.78,270.04 L160.78,267.96 L159.78,265.89 L158.78,263.81 L157.78,261.74 L156.78,259.67 L155.79,257.61 L154.79,255.56 L153.79,253.50 L152.79,251.46 L151.79,249.42 L150.79,247.39 L149.80,245.37 L148.80,243.35 L147.80,241.35 L146.80,239.35 L145.80,237.37 L144.81,235.39 L143.81,233.43 L142.81,231.48 L141.82,229.54 L140.82,227.62 L139.82,225.71 L138.83,223.81 L137.83,221.92 L136.84,220.06 L135.84,218.21 L134.85,216.37 L133.85,214.55 L132.86,212.75 L131.86,210.97 L130.87,209.21 L129.87,207.46 L128.88,205.74 L127.89,204.04 L126.89,202.35 L125.90,200.69 L124.91,199.05 L123.92,197.44 L122.93,195.84 L121.94,194.27 L120.95,192.73 L119.96,191.21 L118.97,189.71 L117.98,188.24 L116.99,186.80 L116.00,185.39 L115.02,184.00 L114.03,182.64 L113.05,181.31 L112.06,180.01 L111.08,178.74 L110.10,177.50 L109.12,176.29 L108.14,175.11 L107.16,173.96 L106.18,172.85 L105.20,171.77 L104.23,170.72 L103.25,169.71 L102.25,168.76 L101.25,167.85 L100.26,166.98 L99.26,166.15 L98.27,165.36 L97.28,164.61 L96.29,163.90 L95.30,163.23 L94.32,162.61 L93.34,162.04 L92.36,161.50 L91.39,161.01 L90.43,160.57 L89.47,160.17 L88.51,159.82 L87.56,159.51 L86.62,159.24 L85.68,159.03Z" fill="#963668" stroke="none"/>
<path d="M86.32,360.77 L87.41,361.08 L88.48,361.47 L89.54,361.92 L90.60,362.44 L91.64,363.03 L92.67,363.66 L93.69,364.35 L94.71,365.09 L95.72,365.88 L96.73,366.71 L97.74,367.58 L98.75,368.48 L99.75,369.42 L100.75,370.40 L101.75,371.40 L102.77,372.41 L103.78,373.45 L104.80,374.50 L105.81,375.58 L106.82,376.68 L107.83,377.79 L108.85,378.92 L109.86,380.06 L110.87,381.23 L111.87,382.40 L112.88,383.59 L113.89,384.80 L114.90,386.02 L115.91,387.25 L116.91,388.50 L117.92,389.75 L118.93,391.02 L119.93,392.31 L120.94,393.60 L121.95,394.90 L122.95,396.22 L123.96,397.54 L124.96,398.87 L125.97,400.22 L126.97,401.57 L127.97,402.92 L128.98,404.29 L129.98,405.66 L130.98,407.04 L131.99,408.43 L132.99,409.82 L133.99,411.22 L135.00,412.62 L136.00,414.03 L137.00,415.44 L138.00,416.85 L139.00,418.27 L140.00,419.69 L141.00,421.12 L142.01,422.54 L143.01,423.97 L144.01,425.39 L145.01,426.82 L146.01,428.26 L147.01,429.69 L148.01,431.12 L149.01,432.56 L150.01,434.00 L151.01,435.43 L152.01,436.87 L153.01,438.31 L154.01,439.75 L155.01,441.19 L156.01,442.63 L157.01,444.08 L158.01,445.52 L159.01,446.96 L160.01,448.40 L161.01,449.85 L162.01,451.29 L163.01,452.73 L164.01,454.17 L165.01,455.62 L166.01,457.06 L167.01,458.50 L168.01,459.94 L169.01,461.38 L170.01,462.82 L171.01,464.26 L172.01,465.70 L173.01,467.14 L174.01,468.57 L175.01,470.01 L176.01,471.44 L177.01,472.87 L178.01,474.30 L179.01,475.73 L180.01,477.16 L181.00,478.58 L182.00,480.00 L183.00,481.42 L184.00,482.84 L185.00,484.26 L186.00,485.68 L187.00,487.09 L188.00,488.50 L189.00,489.91 L190.00,491.31 L190.99,492.71 L191.99,494.11 L192.99,495.51 L193.99,496.90 L194.99,498.29 L195.99,499.68 L196.99,501.06 L197.98,502.44 L198.98,503.82 L199.98,505.20 L200.98,506.57 L201.98,507.93 L202.98,509.30 L203.97,510.66 L204.97,512.02 L205.97,513.37 L206.97,514.72 L207.97,516.07 L208.96,517.41 L209.96,518.75 L210.96,520.09 L211.96,521.42 L212.96,522.75 L213.95,524.08 L214.95,525.40 L215.95,526.71 L216.95,528.03 L217.95,529.34 L218.94,530.64 L219.94,531.94 L220.94,533.24 L221.94,534.53 L222.93,535.82 L223.93,537.10 L224.93,538.38 L225.93,539.65 L226.92,540.92 L227.92,542.19 L228.92,543.45 L229.92,544.70 L230.91,545.95 L231.91,547.20 L232.91,548.44 L233.91,549.68 L234.90,550.91 L235.90,552.14 L236.90,553.36 L237.89,554.58 L238.89,555.79 L239.89,557.00 L240.89,558.20 L241.88,559.40 L242.88,560.59 L243.88,561.77 L244.87,562.95 L245.87,564.13 L246.87,565.30 L247.86,566.46 L248.86,567.62 L249.85,568.77 L250.85,569.92 L251.85,571.06 L252.84,572.20 L253.84,573.33 L254.84,574.46 L255.83,575.57 L256.83,576.69 L257.82,577.80 L258.82,578.90 L259.82,580.00 L260.81,581.09 L261.81,582.17 L262.81,583.25 L263.80,584.33 L264.80,585.40 L265.79,586.46 L266.79,587.52 L267.79,588.57 L268.78,589.62 L269.78,590.66 L270.77,591.69 L271.77,592.72 L272.77,593.75 L273.76,594.77 L274.76,595.78 L275.75,596.79 L276.75,597.80 L277.75,598.79 L278.75,599.78 L279.75,600.76 L280.75,601.74 L281.75,602.71 L282.75,603.68 L283.75,604.64 L284.75,605.60 L285.75,606.55 L286.75,607.50 L287.75,608.44 L288.75,609.37 L289.75,610.30 L290.75,611.23 L291.75,612.15 L292.75,613.06 L293.75,613.97 L294.75,614.87 L295.75,615.77 L296.75,616.67 L297.74,617.55 L298.74,618.44 L299.74,619.32 L300.74,620.19 L301.74,621.06 L302.74,621.92 L303.74,622.78 L304.74,623.63 L305.74,624.48 L306.74,625.32 L307.74,626.16 L308.74,626.99 L309.74,627.82 L310.74,628.64 L311.74,629.45 L312.73,630.27 L313.73,631.07 L314.73,631.88 L315.73,632.67 L316.73,633.46 L317.73,634.25 L318.73,635.03 L319.73,635.81 L320.73,636.58 L321.72,637.35 L322.72,638.11 L323.72,638.87 L324.72,639.63 L325.72,640.37 L326.72,641.12 L327.72,641.86 L328.72,642.59 L329.71,643.32 L330.71,644.04 L331.71,644.76 L332.71,645.48 L333.71,646.19 L334.71,646.89 L335.71,647.60 L336.70,648.29 L337.70,648.98 L338.70,649.67 L339.70,650.35 L340.70,651.03 L341.70,651.71 L342.69,652.38 L343.69,653.04 L344.69,653.70 L345.69,654.36 L346.69,655.01 L347.69,655.66 L348.68,656.30 L349.68,656.94 L350.68,657.57 L351.68,658.20 L352.68,658.83 L353.67,659.45 L354.67,660.07 L355.67,660.68 L356.67,661.29 L357.67,661.89 L358.66,662.49 L359.66,663.09 L360.66,663.68 L361.66,664.27 L362.65,664.85 L363.65,665.43 L364.65,666.01 L365.65,666.58 L366.65,667.15 L367.64,667.71 L368.64,668.27 L369.64,668.83 L370.64,669.38 L371.63,669.93 L372.63,670.47 L373.63,671.01 L374.63,671.55 L375.62,672.08 L376.62,672.61 L377.62,673.14 L378.62,673.66 L379.61,674.18 L380.61,674.69 L381.61,675.20 L382.61,675.70 L383.60,676.21 L384.60,676.71 L385.60,677.20 L386.60,677.69 L387.59,678.18 L388.59,678.67 L389.59,679.15 L390.58,679.62 L391.58,680.10 L392.58,680.57 L393.58,681.03 L394.57,681.50 L395.57,681.96 L396.57,682.41 L397.57,682.87 L398.56,683.32 L399.56,683.76 L400.56,684.21 L401.55,684.65 L402.55,685.08 L403.55,685.51 L404.55,685.94 L405.54,686.37 L406.54,686.79 L407.54,687.21 L408.53,687.63 L409.53,688.04 L410.53,688.45 L411.53,688.86 L412.52,689.27 L413.52,689.67 L414.52,690.06 L415.51,690.46 L416.51,690.85 L417.51,691.24 L418.50,691.62 L419.50,692.01 L420.50,692.39 L421.50,692.76 L422.49,693.14 L423.49,693.51 L424.49,693.87 L425.48,694.24 L426.48,694.60 L427.48,694.96 L428.47,695.31 L429.47,695.67 L430.47,696.02 L431.47,696.37 L432.46,696.71 L433.46,697.05 L434.46,697.39 L435.45,697.73 L436.45,698.06 L437.45,698.39 L438.45,698.72 L439.44,699.05 L440.44,699.37 L441.44,699.69 L442.43,700.01 L443.43,700.32 L444.43,700.63 L445.42,700.94 L446.42,701.25 L447.42,701.55 L448.42,701.86 L449.41,702.16 L450.41,702.45 L451.41,702.75 L452.40,703.04 L453.40,703.33 L454.40,703.62 L455.40,703.90 L456.39,704.18 L457.39,704.47 L458.39,704.74 L459.38,705.02 L460.38,705.29 L461.38,705.56 L462.38,705.83 L463.37,706.10 L464.37,706.36 L465.37,706.62 L466.37,706.88 L467.36,707.14 L468.36,707.39 L469.36,707.65 L470.35,707.90 L471.35,708.15 L472.35,708.39 L473.35,708.64 L474.34,708.88 L475.34,709.12 L476.34,709.36 L477.34,709.60 L478.33,709.83 L479.33,710.06 L480.33,710.29 L481.33,710.52 L482.32,710.75 L483.32,710.97 L484.32,711.19 L485.32,711.41 L486.31,711.63 L487.31,711.85 L488.31,712.06 L489.31,712.28 L490.30,712.49 L491.30,712.70 L492.30,712.91 L493.30,713.11 L494.29,713.32 L495.29,713.52 L496.29,713.72 L497.29,713.92 L498.29,714.12 L499.28,714.31 L500.28,714.51 L501.28,714.70 L502.28,714.89 L503.27,715.08 L504.27,715.27 L505.27,715.45 L506.27,715.64 L507.27,715.82 L508.26,716.00 L509.26,716.18 L510.26,716.36 L511.26,716.54 L512.25,716.71 L513.25,716.89 L514.25,717.06 L515.25,717.23 L516.25,717.40 L517.24,717.57 L518.24,717.73 L519.24,717.90 L520.24,718.06 L521.24,718.22 L522.23,718.38 L523.23,718.54 L524.23,718.70 L525.23,718.85 L526.23,719.01 L527.22,719.16 L528.22,719.31 L529.22,719.46 L530.22,719.61 L531.22,719.76 L532.21,719.91 L533.21,720.05 L534.21,720.20 L535.21,720.34 L536.21,720.48 L537.21,720.62 L538.20,720.76 L539.20,720.89 L540.20,721.03 L541.20,721.16 L542.20,721.30 L543.19,721.43 L544.19,721.56 L545.19,721.69 L546.19,721.82 L547.19,721.94 L548.19,722.07 L549.18,722.19 L550.18,722.32 L551.18,722.44 L552.18,722.56 L553.18,722.68 L554.18,722.80 L555.17,722.92 L556.17,723.03 L557.17,723.15 L558.17,723.26 L559.17,723.37 L560.17,723.49 L561.16,723.60 L562.16,723.71 L563.16,723.81 L564.16,723.92 L565.16,724.03 L566.16,724.13 L567.15,724.24 L568.15,724.34 L569.15,724.44 L570.15,724.54 L571.15,724.64 L572.15,724.74 L573.15,724.84 L574.14,724.94 L575.14,725.03 L576.14,725.13 L577.14,725.22 L578.14,725.31 L579.14,725.41 L580.14,725.50 L581.13,725.59 L582.13,725.68 L583.13,725.77 L584.13,725.85 L585.13,725.94 L586.13,726.02 L587.13,726.11 L588.12,726.19 L589.12,726.28 L590.12,726.36 L591.12,726.44 L592.12,726.52 L593.12,726.60 L594.12,726.68 L595.12,726.76 L596.11,726.83 L597.11,726.91 L598.11,726.98 L599.11,727.06 L600.11,727.13 L601.11,727.21 L602.11,727.28 L603.11,727.35 L604.11,727.42 L605.10,727.49 L606.10,727.56 L607.10,727.63 L608.10,727.70 L609.10,727.76 L610.10,727.83 L611.10,727.90 L612.10,727.96 L613.10,728.03 L614.10,728.09 L615.09,728.15 L616.09,728.22 L617.09,728.28 L618.09,728.34 L619.09,728.40 L620.09,728.46 L621.09,728.52 L622.09,728.58 L623.09,728.64 L624.09,728.69 L625.09,728.75 L626.08,728.81 L627.08,728.86 L628.08,728.92 L629.08,728.97 L630.08,729.03 L631.08,729.08 L632.08,729.14 L633.08,729.19 L634.08,729.24 L635.08,729.29 L636.08,729.34 L637.08,729.39 L638.07,729.44 L639.07,729.49 L640.07,729.54 L641.07,729.59 L642.07,729.64 L643.07,729.69 L644.07,729.73 L645.07,729.78 L646.07,729.82 L647.07,729.87 L648.07,729.91 L649.07,729.96 L650.07,730.00 L651.06,730.05 L652.06,730.09 L653.06,730.13 L654.06,730.17 L655.06,730.21 L656.06,730.26 L657.06,730.30 L658.06,730.34 L659.06,730.38 L660.06,730.41 L661.06,730.45 L662.06,730.49 L663.06,730.53 L664.06,730.57 L665.05,730.60 L666.05,730.64 L667.05,730.68 L668.05,730.71 L669.05,730.75 L670.05,730.78 L671.05,730.82 L672.05,730.85 L673.05,730.88 L674.05,730.92 L675.05,730.95 L676.05,730.98 L677.05,731.01 L678.05,731.04 L679.05,731.08 L680.05,731.11 L681.05,731.14 L682.04,731.17 L683.04,731.20 L684.04,731.22 L685.04,731.25 L686.04,731.28 L687.04,731.31 L688.04,731.34 L689.04,731.37 L690.04,731.39 L691.04,731.42 L692.04,731.45 L693.04,731.47 L694.04,731.50 L695.04,731.52 L696.04,731.55 L697.04,731.57 L698.04,731.60 L699.04,731.62 L700.04,731.65 L701.04,731.67 L702.03,731.69 L703.03,731.72 L704.03,731.74 L705.03,731.76 L706.03,731.78 L707.03,731.80 L708.03,731.83 L709.03,731.85 L710.03,731.87 L711.03,731.89 L712.03,731.91 L713.03,731.93 L714.03,731.95 L715.03,731.97 L716.03,731.99 L717.03,732.01 L718.03,732.03 L719.03,732.04 L720.03,732.06 L721.03,732.08 L722.03,732.10 L723.03,732.12 L724.03,732.13 L725.03,732.15 L726.03,732.17 L727.03,732.19 L728.02,732.20 L729.02,732.22 L730.02,732.24 L731.02,732.25 L732.02,732.27 L733.02,732.28 L734.02,732.30 L735.02,732.31 L736.02,732.33 L737.02,732.34 L738.02,732.36 L739.02,732.37 L740.02,732.39 L741.02,732.40 L742.02,732.42 L743.02,732.43 L744.02,732.44 L745.02,732.46 L746.02,732.47 L747.02,732.48 L748.02,732.50 L749.02,732.51 L750.02,732.52 L751.02,732.54 L752.02,732.55 L753.02,732.56 L754.02,732.57 L755.02,732.59 L756.02,732.60 L757.02,732.61 L758.02,732.62 L759.02,732.64 L760.02,732.65 L761.02,732.66 L762.02,732.67 L763.02,732.68 L764.02,732.69 L765.02,732.71 L766.02,732.72 L767.02,732.73 L768.02,732.74 L769.02,732.75 L770.02,732.76 L771.02,732.77 L772.02,732.78 L773.02,732.80 L774.02,732.81 L775.02,732.82 L776.02,732.83 L777.02,732.84 L778.02,732.85 L779.02,732.86 L780.02,732.87 L781.02,732.88 L782.02,732.89 L783.02,732.90 L784.02,732.92 L785.02,732.93 L786.02,732.94 L787.02,732.95 L788.02,732.96 L789.02,732.97 L790.02,732.98 L791.02,732.99 L792.02,733.00 L793.02,733.01 L794.02,733.02 L795.02,733.03 L796.02,733.04 L797.02,733.05 L798.02,733.07 L799.02,733.08 L800.02,733.09 L801.02,733.10 L802.02,733.11 L803.02,733.12 L804.02,733.13 L805.02,733.14 L806.02,733.15 L807.02,733.16 L808.02,733.17 L809.02,733.18 L810.02,733.19 L811.02,733.20 L812.02,733.21 L813.02,733.22 L814.02,733.23 L815.02,733.24 L816.02,733.25 L817.02,733.26 L818.02,733.27 L819.02,733.28 L820.02,733.29 L821.02,733.30 L822.02,733.31 L823.02,733.32 L824.02,733.33 L825.02,733.34 L826.01,733.35 L827.01,733.36 L828.01,733.37 L829.01,733.38 L830.01,733.39 L831.01,733.40 L832.01,733.41 L833.01,733.42 L834.01,733.43 L835.01,733.44 L836.01,733.45 L837.01,733.46 L838.01,733.47 L839.01,733.48 L840.01,733.49 L841.01,733.50 L842.01,733.51 L843.01,733.52 L844.01,733.53 L845.01,733.54 L846.01,733.55 L847.01,733.56 L848.01,733.57 L849.01,733.58 L850.01,733.59 L851.01,733.59 L852.01,733.60 L853.01,733.61 L854.01,733.62 L855.01,733.63 L856.01,733.64 L857.01,733.65 L858.01,733.66 L859.01,733.67 L860.01,733.68 L861.01,733.69 L862.01,733.70 L863.01,733.70 L864.01,733.71 L865.01,733.72 L866.01,733.73 L867.01,733.74 L868.01,733.75 L869.01,733.76 L870.01,733.77 L871.01,733.78 L872.01,733.78 L873.01,733.79 L874.01,733.80 L875.01,733.81 L876.01,733.82 L877.01,733.83 L878.01,733.84 L879.01,733.84 L880.01,733.85 L881.01,733.86 L882.01,733.87 L883.01,733.88 L884.01,733.89 L885.01,733.89 L886.01,733.90 L887.01,733.91 L888.01,733.92 L889.01,733.93 L890.01,733.93 L891.01,733.94 L892.01,733.95 L893.01,733.96 L894.01,733.97 L895.01,733.97 L896.01,733.98 L897.01,733.99 L898.01,734.00 L899.01,734.01 L900.01,734.01 L901.01,734.02 L902.01,734.03 L903.01,734.04 L904.01,734.04 L905.01,734.05 L906.01,734.06 L907.01,734.07 L908.01,734.07 L909.01,734.08 L910.01,734.09 L911.01,734.10 L912.01,734.10 L913.01,734.11 L914.01,734.12 L915.01,734.12 L916.01,734.13 L917.01,734.14 L918.01,734.15 L919.01,734.15 L920.01,734.16 L921.01,734.17 L922.01,734.17 L923.01,734.18 L924.01,734.19 L925.01,734.19 L926.01,734.20 L927.01,734.21 L928.01,734.21 L929.01,734.22 L930.01,734.23 L931.01,734.23 L932.01,734.24 L933.01,734.25 L934.01,734.25 L935.01,734.26 L936.01,734.26 L937.01,734.27 L938.01,734.28 L939.01,734.28 L940.01,734.29 L941.01,734.29 L942.01,734.30 L941.99,737.30 L940.99,737.29 L939.99,737.29 L938.99,737.28 L937.99,737.28 L936.99,737.27 L935.99,737.26 L934.99,737.26 L933.99,737.25 L932.99,737.25 L931.99,737.24 L930.99,737.23 L929.99,737.23 L928.99,737.22 L927.99,737.21 L926.99,737.21 L925.99,737.20 L924.99,737.19 L923.99,737.19 L922.99,737.18 L921.99,737.17 L920.99,737.17 L919.99,737.16 L918.99,737.15 L917.99,737.15 L916.99,737.14 L915.99,737.13 L914.99,737.12 L913.99,737.12 L912.99,737.11 L911.99,737.10 L910.99,737.10 L909.99,737.09 L908.99,737.08 L907.99,737.07 L906.99,737.07 L905.99,737.06 L904.99,737.05 L903.99,737.04 L902.99,737.04 L901.99,737.03 L900.99,737.02 L899.99,737.01 L898.99,737.01 L897.99,737.00 L896.99,736.99 L895.99,736.98 L894.99,736.97 L893.99,736.97 L892.99,736.96 L891.99,736.95 L890.99,736.94 L889.99,736.93 L888.99,736.93 L887.99,736.92 L886.99,736.91 L885.99,736.90 L884.99,736.89 L883.99,736.89 L882.99,736.88 L881.99,736.87 L880.99,736.86 L879.99,736.85 L878.99,736.84 L877.99,736.84 L876.99,736.83 L875.99,736.82 L874.99,736.81 L873.99,736.80 L872.99,736.79 L871.99,736.78 L870.99,736.77 L869.99,736.77 L868.99,736.76 L867.99,736.75 L866.99,736.74 L865.99,736.73 L864.99,736.72 L863.99,736.71 L862.99,736.70 L861.99,736.70 L860.99,736.69 L859.99,736.68 L858.99,736.67 L857.99,736.66 L856.99,736.65 L855.99,736.64 L854.99,736.63 L853.99,736.62 L852.99,736.61 L851.99,736.60 L850.99,736.59 L849.99,736.59 L848.99,736.58 L847.99,736.57 L846.99,736.56 L845.99,736.55 L844.99,736.54 L843.99,736.53 L842.99,736.52 L841.99,736.51 L840.99,736.50 L839.99,736.49 L838.99,736.48 L837.99,736.47 L836.99,736.46 L835.99,736.45 L834.99,736.44 L833.99,736.43 L832.99,736.42 L831.99,736.41 L830.99,736.40 L829.99,736.39 L828.99,736.38 L827.99,736.37 L826.99,736.36 L825.99,736.35 L824.98,736.34 L823.98,736.33 L822.98,736.32 L821.98,736.31 L820.98,736.30 L819.98,736.29 L818.98,736.28 L817.98,736.27 L816.98,736.26 L815.98,736.25 L814.98,736.24 L813.98,736.23 L812.98,736.22 L811.98,736.21 L810.98,736.20 L809.98,736.19 L808.98,736.18 L807.98,736.17 L806.98,736.16 L805.98,736.15 L804.98,736.14 L803.98,736.13 L802.98,736.12 L801.98,736.11 L800.98,736.10 L799.98,736.09 L798.98,736.08 L797.98,736.06 L796.98,736.05 L795.98,736.04 L794.98,736.03 L793.98,736.02 L792.98,736.01 L791.98,736.00 L790.98,735.99 L789.98,735.98 L788.98,735.97 L787.98,735.96 L786.98,735.95 L785.98,735.94 L784.98,735.93 L783.98,735.92 L782.98,735.90 L781.98,735.89 L780.98,735.88 L779.98,735.87 L778.98,735.86 L777.98,735.85 L776.98,735.84 L775.98,735.83 L774.98,735.82 L773.98,735.81 L772.98,735.80 L771.98,735.78 L770.98,735.77 L769.98,735.76 L768.98,735.75 L767.98,735.74 L766.98,735.73 L765.98,735.72 L764.98,735.71 L763.98,735.69 L762.98,735.68 L761.98,735.67 L760.98,735.66 L759.98,735.65 L758.98,735.63 L757.98,735.62 L756.98,735.61 L755.98,735.60 L754.98,735.59 L753.98,735.57 L752.98,735.56 L751.98,735.55 L750.98,735.54 L749.98,735.52 L748.98,735.51 L747.98,735.50 L746.98,735.48 L745.98,735.47 L744.98,735.46 L743.98,735.44 L742.98,735.43 L741.98,735.42 L740.98,735.40 L739.98,735.39 L738.98,735.37 L737.98,735.36 L736.98,735.34 L735.98,735.33 L734.98,735.31 L733.98,735.30 L732.98,735.28 L731.98,735.27 L730.98,735.25 L729.98,735.23 L728.98,735.22 L727.98,735.20 L726.97,735.18 L725.97,735.17 L724.97,735.15 L723.97,735.13 L722.97,735.12 L721.97,735.10 L720.97,735.08 L719.97,735.06 L718.97,735.04 L717.97,735.03 L716.97,735.01 L715.97,734.99 L714.97,734.97 L713.97,734.95 L712.97,734.93 L711.97,734.91 L710.97,734.89 L709.97,734.87 L708.97,734.85 L707.97,734.82 L706.97,734.80 L705.97,734.78 L704.97,734.76 L703.97,734.74 L702.97,734.71 L701.97,734.69 L700.96,734.67 L699.96,734.64 L698.96,734.62 L697.96,734.60 L696.96,734.57 L695.96,734.55 L694.96,734.52 L693.96,734.50 L692.96,734.47 L691.96,734.44 L690.96,734.42 L689.96,734.39 L688.96,734.36 L687.96,734.34 L686.96,734.31 L685.96,734.28 L684.96,734.25 L683.96,734.22 L682.96,734.19 L681.96,734.16 L680.95,734.13 L679.95,734.10 L678.95,734.07 L677.95,734.04 L676.95,734.01 L675.95,733.98 L674.95,733.95 L673.95,733.91 L672.95,733.88 L671.95,733.85 L670.95,733.81 L669.95,733.78 L668.95,733.74 L667.95,733.71 L666.95,733.67 L665.95,733.64 L664.95,733.60 L663.94,733.56 L662.94,733.52 L661.94,733.49 L660.94,733.45 L659.94,733.41 L658.94,733.37 L657.94,733.33 L656.94,733.29 L655.94,733.25 L654.94,733.21 L653.94,733.17 L652.94,733.13 L651.94,733.08 L650.94,733.04 L649.93,733.00 L648.93,732.95 L647.93,732.91 L646.93,732.86 L645.93,732.82 L644.93,732.77 L643.93,732.73 L642.93,732.68 L641.93,732.63 L640.93,732.58 L639.93,732.53 L638.93,732.49 L637.93,732.44 L636.92,732.39 L635.92,732.34 L634.92,732.28 L633.92,732.23 L632.92,732.18 L631.92,732.13 L630.92,732.07 L629.92,732.02 L628.92,731.97 L627.92,731.91 L626.92,731.85 L625.92,731.80 L624.91,731.74 L623.91,731.68 L622.91,731.63 L621.91,731.57 L620.91,731.51 L619.91,731.45 L618.91,731.39 L617.91,731.33 L616.91,731.27 L615.91,731.20 L614.91,731.14 L613.90,731.08 L612.90,731.01 L611.90,730.95 L610.90,730.88 L609.90,730.82 L608.90,730.75 L607.90,730.68 L606.90,730.61 L605.90,730.55 L604.90,730.48 L603.89,730.41 L602.89,730.33 L601.89,730.26 L600.89,730.19 L599.89,730.12 L598.89,730.04 L597.89,729.97 L596.89,729.89 L595.89,729.81 L594.88,729.74 L593.88,729.66 L592.88,729.58 L591.88,729.50 L590.88,729.42 L589.88,729.34 L588.88,729.26 L587.88,729.17 L586.87,729.09 L585.87,729.00 L584.87,728.92 L583.87,728.83 L582.87,728.74 L581.87,728.65 L580.87,728.56 L579.86,728.47 L578.86,728.38 L577.86,728.29 L576.86,728.20 L575.86,728.10 L574.86,728.01 L573.86,727.91 L572.85,727.81 L571.85,727.71 L570.85,727.61 L569.85,727.51 L568.85,727.41 L567.85,727.31 L566.85,727.21 L565.84,727.10 L564.84,726.99 L563.84,726.89 L562.84,726.78 L561.84,726.67 L560.84,726.56 L559.83,726.45 L558.83,726.34 L557.83,726.22 L556.83,726.11 L555.83,725.99 L554.83,725.88 L553.82,725.76 L552.82,725.64 L551.82,725.52 L550.82,725.40 L549.82,725.27 L548.82,725.15 L547.81,725.02 L546.81,724.90 L545.81,724.77 L544.81,724.64 L543.81,724.51 L542.81,724.38 L541.80,724.25 L540.80,724.11 L539.80,723.98 L538.80,723.84 L537.80,723.70 L536.79,723.56 L535.79,723.42 L534.79,723.28 L533.79,723.14 L532.79,722.99 L531.79,722.84 L530.78,722.70 L529.78,722.55 L528.78,722.40 L527.78,722.25 L526.78,722.09 L525.77,721.94 L524.77,721.78 L523.77,721.63 L522.77,721.47 L521.77,721.31 L520.76,721.14 L519.76,720.98 L518.76,720.82 L517.76,720.65 L516.76,720.48 L515.75,720.31 L514.75,720.14 L513.75,719.97 L512.75,719.80 L511.75,719.62 L510.74,719.45 L509.74,719.27 L508.74,719.09 L507.74,718.91 L506.73,718.72 L505.73,718.54 L504.73,718.35 L503.73,718.16 L502.73,717.98 L501.72,717.78 L500.72,717.59 L499.72,717.40 L498.72,717.20 L497.71,717.00 L496.71,716.80 L495.71,716.60 L494.71,716.40 L493.71,716.20 L492.70,715.99 L491.70,715.78 L490.70,715.57 L489.70,715.36 L488.69,715.15 L487.69,714.93 L486.69,714.71 L485.69,714.50 L484.68,714.27 L483.68,714.05 L482.68,713.83 L481.68,713.60 L480.67,713.37 L479.67,713.14 L478.67,712.91 L477.67,712.67 L476.66,712.44 L475.66,712.20 L474.66,711.96 L473.66,711.71 L472.65,711.47 L471.65,711.22 L470.65,710.97 L469.65,710.72 L468.64,710.47 L467.64,710.21 L466.64,709.95 L465.63,709.69 L464.63,709.43 L463.63,709.16 L462.63,708.90 L461.62,708.63 L460.62,708.36 L459.62,708.08 L458.62,707.81 L457.61,707.53 L456.61,707.25 L455.61,706.96 L454.60,706.68 L453.60,706.39 L452.60,706.10 L451.60,705.80 L450.59,705.51 L449.59,705.21 L448.59,704.91 L447.58,704.60 L446.58,704.30 L445.58,703.99 L444.58,703.68 L443.57,703.37 L442.57,703.05 L441.57,702.73 L440.56,702.41 L439.56,702.08 L438.56,701.76 L437.55,701.43 L436.55,701.09 L435.55,700.76 L434.55,700.42 L433.54,700.08 L432.54,699.74 L431.54,699.39 L430.53,699.04 L429.53,698.69 L428.53,698.33 L427.53,697.98 L426.52,697.61 L425.52,697.25 L424.52,696.88 L423.51,696.51 L422.51,696.14 L421.51,695.77 L420.50,695.39 L419.50,695.01 L418.50,694.62 L417.50,694.23 L416.49,693.84 L415.49,693.45 L414.49,693.05 L413.48,692.65 L412.48,692.25 L411.48,691.84 L410.47,691.43 L409.47,691.02 L408.47,690.60 L407.47,690.18 L406.46,689.76 L405.46,689.34 L404.46,688.91 L403.45,688.47 L402.45,688.04 L401.45,687.60 L400.45,687.16 L399.44,686.71 L398.44,686.26 L397.44,685.81 L396.43,685.35 L395.43,684.89 L394.43,684.43 L393.43,683.96 L392.42,683.49 L391.42,683.02 L390.42,682.54 L389.42,682.06 L388.41,681.58 L387.41,681.09 L386.41,680.60 L385.40,680.11 L384.40,679.61 L383.40,679.11 L382.40,678.60 L381.39,678.09 L380.39,677.58 L379.39,677.06 L378.39,676.54 L377.38,676.01 L376.38,675.48 L375.38,674.95 L374.38,674.42 L373.37,673.88 L372.37,673.33 L371.37,672.78 L370.37,672.23 L369.36,671.68 L368.36,671.12 L367.36,670.55 L366.36,669.99 L365.35,669.41 L364.35,668.84 L363.35,668.26 L362.35,667.68 L361.35,667.09 L360.34,666.50 L359.34,665.90 L358.34,665.30 L357.34,664.70 L356.33,664.09 L355.33,663.47 L354.33,662.86 L353.33,662.24 L352.33,661.61 L351.32,660.98 L350.32,660.35 L349.32,659.71 L348.32,659.07 L347.32,658.42 L346.31,657.77 L345.31,657.11 L344.31,656.45 L343.31,655.79 L342.31,655.12 L341.31,654.44 L340.30,653.77 L339.30,653.08 L338.30,652.40 L337.30,651.70 L336.30,651.01 L335.30,650.31 L334.29,649.60 L333.29,648.89 L332.29,648.18 L331.29,647.46 L330.29,646.74 L329.29,646.01 L328.29,645.27 L327.28,644.54 L326.28,643.79 L325.28,643.05 L324.28,642.29 L323.28,641.54 L322.28,640.77 L321.28,640.01 L320.28,639.24 L319.27,638.46 L318.27,637.68 L317.27,636.89 L316.27,636.10 L315.27,635.30 L314.27,634.50 L313.27,633.70 L312.27,632.89 L311.27,632.07 L310.26,631.25 L309.26,630.42 L308.26,629.59 L307.26,628.76 L306.26,627.92 L305.26,627.07 L304.26,626.22 L303.26,625.36 L302.26,624.50 L301.26,623.64 L300.26,622.77 L299.26,621.89 L298.26,621.01 L297.26,620.12 L296.26,619.23 L295.25,618.33 L294.25,617.43 L293.25,616.52 L292.25,615.61 L291.25,614.69 L290.25,613.77 L289.25,612.84 L288.25,611.91 L287.25,610.97 L286.25,610.03 L285.25,609.08 L284.25,608.12 L283.25,607.16 L282.25,606.20 L281.25,605.23 L280.25,604.25 L279.25,603.27 L278.25,602.29 L277.25,601.30 L276.25,600.30 L275.25,599.30 L274.25,598.29 L273.24,597.28 L272.24,596.27 L271.23,595.25 L270.23,594.22 L269.23,593.19 L268.22,592.16 L267.22,591.12 L266.21,590.07 L265.21,589.02 L264.21,587.96 L263.20,586.89 L262.20,585.82 L261.19,584.75 L260.19,583.67 L259.19,582.58 L258.18,581.49 L257.18,580.39 L256.18,579.29 L255.17,578.18 L254.17,577.07 L253.16,575.95 L252.16,574.82 L251.16,573.69 L250.15,572.55 L249.15,571.41 L248.15,570.26 L247.14,569.11 L246.14,567.95 L245.13,566.78 L244.13,565.61 L243.13,564.43 L242.12,563.25 L241.12,562.06 L240.12,560.87 L239.11,559.67 L238.11,558.47 L237.11,557.26 L236.11,556.05 L235.10,554.83 L234.10,553.61 L233.10,552.38 L232.09,551.15 L231.09,549.91 L230.09,548.67 L229.09,547.42 L228.08,546.17 L227.08,544.91 L226.08,543.65 L225.08,542.38 L224.07,541.11 L223.07,539.83 L222.07,538.55 L221.07,537.27 L220.06,535.98 L219.06,534.69 L218.06,533.39 L217.06,532.09 L216.05,530.78 L215.05,529.47 L214.05,528.16 L213.05,526.84 L212.05,525.52 L211.04,524.19 L210.04,522.86 L209.04,521.53 L208.04,520.19 L207.04,518.85 L206.03,517.51 L205.03,516.16 L204.03,514.81 L203.03,513.45 L202.03,512.09 L201.02,510.73 L200.02,509.36 L199.02,508.00 L198.02,506.62 L197.02,505.25 L196.02,503.87 L195.01,502.49 L194.01,501.10 L193.01,499.71 L192.01,498.32 L191.01,496.93 L190.01,495.53 L189.01,494.13 L188.00,492.73 L187.00,491.32 L186.00,489.91 L185.00,488.50 L184.00,487.09 L183.00,485.67 L182.00,484.26 L181.00,482.84 L180.00,481.42 L179.00,479.99 L177.99,478.57 L176.99,477.14 L175.99,475.71 L174.99,474.28 L173.99,472.85 L172.99,471.41 L171.99,469.98 L170.99,468.54 L169.99,467.10 L168.99,465.67 L167.99,464.23 L166.99,462.79 L165.99,461.35 L164.99,459.91 L163.99,458.46 L162.99,457.02 L161.99,455.58 L160.99,454.14 L159.99,452.69 L158.99,451.25 L157.99,449.81 L156.99,448.36 L155.99,446.92 L154.99,445.48 L153.99,444.04 L152.99,442.60 L151.99,441.16 L150.99,439.72 L149.99,438.28 L148.99,436.84 L147.99,435.40 L146.99,433.97 L145.99,432.53 L144.99,431.10 L143.99,429.66 L142.99,428.23 L141.99,426.80 L140.99,425.38 L139.99,423.95 L139.00,422.53 L138.00,421.10 L137.00,419.68 L136.00,418.27 L135.00,416.85 L134.00,415.44 L133.00,414.04 L132.01,412.64 L131.01,411.24 L130.01,409.85 L129.02,408.47 L128.02,407.09 L127.02,405.72 L126.03,404.36 L125.03,403.00 L124.03,401.65 L123.04,400.31 L122.04,398.98 L121.05,397.66 L120.05,396.35 L119.06,395.05 L118.07,393.76 L117.07,392.48 L116.08,391.21 L115.09,389.96 L114.09,388.72 L113.10,387.49 L112.11,386.27 L111.12,385.07 L110.13,383.88 L109.13,382.71 L108.14,381.55 L107.15,380.41 L106.17,379.28 L105.18,378.17 L104.19,377.08 L103.20,376.00 L102.22,374.94 L101.23,373.91 L100.25,372.91 L99.25,371.95 L98.25,371.04 L97.25,370.15 L96.26,369.31 L95.27,368.52 L94.28,367.77 L93.29,367.08 L92.31,366.43 L91.33,365.85 L90.36,365.32 L89.40,364.86 L88.46,364.45 L87.52,364.11 L86.59,363.84 L85.68,363.63Z" fill="#958f3c" stroke="none"/>
<path d="M86.69,531.45 L87.69,532.13 L88.70,532.82 L89.71,533.54 L90.71,534.27 L91.72,535.02 L92.72,535.79 L93.73,536.57 L94.73,537.37 L95.73,538.18 L96.74,539.00 L97.74,539.84 L98.74,540.68 L99.74,541.54 L100.74,542.41 L101.74,543.29 L102.74,544.17 L103.75,545.07 L104.75,545.97 L105.75,546.88 L106.75,547.79 L107.75,548.71 L108.75,549.63 L109.75,550.56 L110.75,551.49 L111.75,552.42 L112.75,553.36 L113.75,554.29 L114.75,555.23 L115.75,556.17 L116.75,557.12 L117.75,558.06 L118.75,559.01 L119.75,559.95 L120.75,560.90 L121.75,561.85 L122.75,562.80 L123.75,563.76 L124.75,564.71 L125.75,565.66 L126.75,566.62 L127.75,567.57 L128.75,568.53 L129.75,569.48 L130.75,570.44 L131.75,571.39 L132.75,572.35 L133.75,573.30 L134.75,574.26 L135.75,575.21 L136.75,576.16 L137.75,577.11 L138.75,578.06 L139.75,579.01 L140.75,579.96 L141.75,580.91 L142.75,581.85 L143.75,582.79 L144.75,583.73 L145.75,584.67 L146.75,585.61 L147.75,586.54 L148.75,587.47 L149.75,588.40 L150.75,589.33 L151.75,590.25 L152.75,591.17 L153.75,592.09 L154.75,593.00 L155.75,593.91 L156.75,594.82 L157.75,595.72 L158.75,596.62 L159.75,597.52 L160.75,598.41 L161.74,599.30 L162.74,600.18 L163.74,601.06 L164.74,601.93 L165.74,602.80 L166.74,603.67 L167.74,604.53 L168.74,605.39 L169.74,606.24 L170.74,607.09 L171.74,607.94 L172.74,608.78 L173.74,609.62 L174.74,610.46 L175.74,611.29 L176.74,612.11 L177.74,612.94 L178.74,613.75 L179.73,614.57 L180.73,615.38 L181.73,616.19 L182.73,616.99 L183.73,617.79 L184.73,618.58 L185.73,619.38 L186.73,620.16 L187.73,620.95 L188.73,621.73 L189.73,622.50 L190.73,623.28 L191.73,624.05 L192.72,624.81 L193.72,625.57 L194.72,626.33 L195.72,627.09 L196.72,627.84 L197.72,628.58 L198.72,629.33 L199.72,630.07 L200.72,630.80 L201.72,631.54 L202.71,632.26 L203.71,632.99 L204.71,633.71 L205.71,634.43 L206.71,635.15 L207.71,635.86 L208.71,636.56 L209.71,637.27 L210.71,637.97 L211.70,638.67 L212.70,639.36 L213.70,640.05 L214.70,640.74 L215.70,641.42 L216.70,642.10 L217.70,642.78 L218.70,643.45 L219.69,644.12 L220.69,644.79 L221.69,645.46 L222.69,646.12 L223.69,646.77 L224.69,647.43 L225.69,648.08 L226.68,648.72 L227.68,649.37 L228.68,650.01 L229.68,650.65 L230.68,651.28 L231.68,651.91 L232.68,652.54 L233.67,653.17 L234.67,653.79 L235.67,654.41 L236.67,655.02 L237.67,655.63 L238.67,656.24 L239.67,656.85 L240.66,657.45 L241.66,658.05 L242.66,658.65 L243.66,659.24 L244.66,659.83 L245.66,660.42 L246.65,661.00 L247.65,661.58 L248.65,662.16 L249.65,662.73 L250.65,663.30 L251.64,663.87 L252.64,664.43 L253.64,665.00 L254.64,665.55 L255.64,666.11 L256.64,666.66 L257.63,667.21 L258.63,667.75 L259.63,668.30 L260.63,668.83 L261.63,669.37 L262.62,669.90 L263.62,670.43 L264.62,670.96 L265.62,671.48 L266.61,672.00 L267.61,672.51 L268.61,673.03 L269.61,673.54 L270.61,674.04 L271.60,674.55 L272.60,675.05 L273.60,675.54 L274.60,676.04 L275.59,676.53 L276.59,677.02 L277.59,677.50 L278.59,677.98 L279.58,678.46 L280.58,678.93 L281.58,679.40 L282.58,679.87 L283.57,680.34 L284.57,680.80 L285.57,681.26 L286.57,681.71 L287.56,682.16 L288.56,682.61 L289.56,683.06 L290.56,683.50 L291.55,683.94 L292.55,684.37 L293.55,684.81 L294.54,685.24 L295.54,685.66 L296.54,686.09 L297.54,686.51 L298.53,686.92 L299.53,687.33 L300.53,687.74 L301.52,688.15 L302.52,688.55 L303.52,688.96 L304.52,689.35 L305.51,689.75 L306.51,690.14 L307.51,690.52 L308.50,690.91 L309.50,691.29 L310.50,691.67 L311.49,692.04 L312.49,692.41 L313.49,692.78 L314.48,693.15 L315.48,693.51 L316.48,693.87 L317.47,694.22 L318.47,694.57 L319.47,694.92 L320.47,695.27 L321.46,695.61 L322.46,695.95 L323.46,696.29 L324.45,696.63 L325.45,696.96 L326.45,697.29 L327.44,697.61 L328.44,697.94 L329.44,698.26 L330.43,698.57 L331.43,698.89 L332.43,699.20 L333.42,699.51 L334.42,699.82 L335.42,700.12 L336.42,700.42 L337.41,700.72 L338.41,701.02 L339.41,701.31 L340.40,701.60 L341.40,701.89 L342.40,702.18 L343.39,702.46 L344.39,702.74 L345.39,703.02 L346.39,703.30 L347.38,703.57 L348.38,703.84 L349.38,704.11 L350.37,704.38 L351.37,704.64 L352.37,704.91 L353.37,705.17 L354.36,705.42 L355.36,705.68 L356.36,705.93 L357.35,706.18 L358.35,706.43 L359.35,706.68 L360.35,706.92 L361.34,707.17 L362.34,707.41 L363.34,707.64 L364.34,707.88 L365.33,708.11 L366.33,708.35 L367.33,708.58 L368.33,708.81 L369.32,709.03 L370.32,709.26 L371.32,709.48 L372.32,709.70 L373.31,709.92 L374.31,710.14 L375.31,710.35 L376.31,710.57 L377.30,710.78 L378.30,710.99 L379.30,711.20 L380.30,711.41 L381.30,711.61 L382.29,711.82 L383.29,712.02 L384.29,712.22 L385.29,712.42 L386.29,712.62 L387.28,712.81 L388.28,713.01 L389.28,713.20 L390.28,713.39 L391.28,713.58 L392.27,713.77 L393.27,713.96 L394.27,714.15 L395.27,714.33 L396.27,714.51 L397.26,714.70 L398.26,714.88 L399.26,715.06 L400.26,715.24 L401.26,715.41 L402.26,715.59 L403.25,715.77 L404.25,715.94 L405.25,716.11 L406.25,716.28 L407.25,716.45 L408.25,716.62 L409.25,716.79 L410.24,716.96 L411.24,717.12 L412.24,717.29 L413.24,717.45 L414.24,717.61 L415.24,717.78 L416.23,717.94 L417.23,718.09 L418.23,718.25 L419.23,718.41 L420.23,718.56 L421.23,718.72 L422.22,718.87 L423.22,719.02 L424.22,719.18 L425.22,719.33 L426.22,719.47 L427.22,719.62 L428.22,719.77 L429.21,719.91 L430.21,720.06 L431.21,720.20 L432.21,720.35 L433.21,720.49 L434.21,720.63 L435.20,720.77 L436.20,720.90 L437.20,721.04 L438.20,721.18 L439.20,721.31 L440.20,721.45 L441.20,721.58 L442.19,721.71 L443.19,721.84 L444.19,721.97 L445.19,722.10 L446.19,722.23 L447.19,722.36 L448.19,722.48 L449.18,722.61 L450.18,722.73 L451.18,722.85 L452.18,722.98 L453.18,723.10 L454.18,723.22 L455.18,723.34 L456.17,723.45 L457.17,723.57 L458.17,723.69 L459.17,723.80 L460.17,723.92 L461.17,724.03 L462.17,724.14 L463.16,724.25 L464.16,724.37 L465.16,724.47 L466.16,724.58 L467.16,724.69 L468.16,724.80 L469.16,724.90 L470.16,725.01 L471.15,725.11 L472.15,725.22 L473.15,725.32 L474.15,725.42 L475.15,725.52 L476.15,725.62 L477.15,725.72 L478.15,725.82 L479.14,725.91 L480.14,726.01 L481.14,726.11 L482.14,726.20 L483.14,726.29 L484.14,726.39 L485.14,726.48 L486.14,726.57 L487.13,726.66 L488.13,726.75 L489.13,726.84 L490.13,726.93 L491.13,727.01 L492.13,727.10 L493.13,727.18 L494.13,727.27 L495.12,727.35 L496.12,727.43 L497.12,727.52 L498.12,727.60 L499.12,727.68 L500.12,727.76 L501.12,727.84 L502.12,727.92 L503.12,727.99 L504.11,728.07 L505.11,728.15 L506.11,728.22 L507.11,728.29 L508.11,728.37 L509.11,728.44 L510.11,728.51 L511.11,728.58 L512.11,728.66 L513.10,728.73 L514.10,728.79 L515.10,728.86 L516.10,728.93 L517.10,729.00 L518.10,729.06 L519.10,729.13 L520.10,729.20 L521.10,729.26 L522.09,729.32 L523.09,729.39 L524.09,729.45 L525.09,729.51 L526.09,729.57 L527.09,729.63 L528.09,729.69 L529.09,729.75 L530.09,729.81 L531.09,729.87 L532.08,729.92 L533.08,729.98 L534.08,730.03 L535.08,730.09 L536.08,730.14 L537.08,730.20 L538.08,730.25 L539.08,730.30 L540.08,730.35 L541.08,730.41 L542.08,730.46 L543.07,730.51 L544.07,730.56 L545.07,730.60 L546.07,730.65 L547.07,730.70 L548.07,730.75 L549.07,730.79 L550.07,730.84 L551.07,730.89 L552.07,730.93 L553.07,730.97 L554.06,731.02 L555.06,731.06 L556.06,731.10 L557.06,731.15 L558.06,731.19 L559.06,731.23 L560.06,731.27 L561.06,731.31 L562.06,731.35 L563.06,731.39 L564.06,731.42 L565.06,731.46 L566.06,731.50 L567.05,731.53 L568.05,731.57 L569.05,731.61 L570.05,731.64 L571.05,731.68 L572.05,731.71 L573.05,731.74 L574.05,731.78 L575.05,731.81 L576.05,731.84 L577.05,731.87 L578.05,731.90 L579.05,731.94 L580.05,731.97 L581.04,732.00 L582.04,732.02 L583.04,732.05 L584.04,732.08 L585.04,732.11 L586.04,732.14 L587.04,732.16 L588.04,732.19 L589.04,732.22 L590.04,732.24 L591.04,732.27 L592.04,732.29 L593.04,732.32 L594.04,732.34 L595.04,732.37 L596.03,732.39 L597.03,732.41 L598.03,732.44 L599.03,732.46 L600.03,732.48 L601.03,732.50 L602.03,732.52 L603.03,732.54 L604.03,732.56 L605.03,732.58 L606.03,732.60 L607.03,732.62 L608.03,732.64 L609.03,732.66 L610.03,732.68 L611.03,732.70 L612.03,732.71 L613.03,732.73 L614.03,732.75 L615.02,732.76 L616.02,732.78 L617.02,732.80 L618.02,732.81 L619.02,732.83 L620.02,732.84 L621.02,732.86 L622.02,732.87 L623.02,732.88 L624.02,732.90 L625.02,732.91 L626.02,732.92 L627.02,732.94 L628.02,732.95 L629.02,732.96 L630.02,732.97 L631.02,732.99 L632.02,733.00 L633.02,733.01 L634.02,733.02 L635.02,733.03 L636.02,733.04 L637.02,733.05 L638.01,733.06 L639.01,733.07 L640.01,733.08 L641.01,733.09 L642.01,733.10 L643.01,733.11 L644.01,733.12 L645.01,733.13 L646.01,733.13 L647.01,733.14 L648.01,733.15 L649.01,733.16 L650.01,733.17 L651.01,733.17 L652.01,733.18 L653.01,733.19 L654.01,733.19 L655.01,733.20 L656.01,733.21 L657.01,733.21 L658.01,733.22 L659.01,733.23 L660.01,733.23 L661.01,733.24 L662.01,733.24 L663.01,733.25 L664.01,733.25 L665.01,733.26 L666.01,733.26 L667.01,733.27 L668.01,733.27 L669.01,733.28 L670.01,733.28 L671.01,733.29 L672.01,733.29 L673.01,733.30 L674.01,733.30 L675.01,733.30 L676.01,733.31 L677.01,733.31 L678.01,733.31 L679.01,733.32 L680.01,733.32 L681.01,733.33 L682.01,733.33 L683.01,733.33 L684.01,733.34 L685.00,733.34 L686.00,733.34 L687.00,733.35 L688.00,733.35 L689.00,733.35 L690.00,733.36 L691.00,733.36 L692.00,733.36 L693.00,733.36 L694.00,733.37 L695.00,733.37 L696.00,733.37 L697.00,733.38 L698.00,733.38 L699.00,733.38 L700.00,733.39 L701.00,733.39 L702.00,733.39 L703.00,733.39 L704.00,733.40 L705.00,733.40 L706.00,733.40 L707.00,733.41 L708.00,733.41 L709.00,733.41 L710.00,733.42 L711.00,733.42 L712.00,733.42 L713.00,733.43 L714.00,733.43 L715.00,733.43 L716.00,733.43 L717.00,733.44 L718.00,733.44 L719.00,733.44 L720.00,733.45 L721.00,733.45 L722.00,733.45 L723.00,733.46 L724.00,733.46 L725.00,733.46 L726.00,733.47 L727.00,733.47 L728.00,733.47 L729.00,733.48 L730.00,733.48 L731.00,733.48 L732.00,733.49 L733.00,733.49 L734.01,733.49 L735.01,733.50 L736.01,733.50 L737.01,733.50 L738.01,733.51 L739.01,733.51 L740.01,733.51 L741.01,733.52 L742.01,733.52 L743.01,733.52 L744.01,733.53 L745.01,733.53 L746.01,733.53 L747.01,733.54 L748.01,733.54 L749.01,733.54 L750.01,733.55 L751.01,733.55 L752.01,733.56 L753.01,733.56 L754.01,733.56 L755.01,733.57 L756.01,733.57 L757.01,733.57 L758.01,733.58 L759.01,733.58 L760.01,733.58 L761.01,733.59 L762.01,733.59 L763.01,733.59 L764.01,733.60 L765.01,733.60 L766.01,733.61 L767.01,733.61 L768.01,733.61 L769.01,733.62 L770.01,733.62 L771.01,733.62 L772.01,733.63 L773.01,733.63 L774.01,733.64 L775.01,733.64 L776.01,733.64 L777.01,733.65 L778.01,733.65 L779.01,733.66 L780.01,733.66 L781.01,733.66 L782.01,733.67 L783.01,733.67 L784.01,733.67 L785.01,733.68 L786.01,733.68 L787.01,733.69 L788.01,733.69 L789.01,733.69 L790.01,733.70 L791.01,733.70 L792.01,733.71 L793.01,733.71 L794.01,733.71 L795.01,733.72 L796.01,733.72 L797.01,733.73 L798.01,733.73 L799.01,733.74 L800.01,733.74 L801.01,733.74 L802.01,733.75 L803.01,733.75 L804.01,733.76 L805.01,733.76 L806.01,733.76 L807.01,733.77 L808.01,733.77 L809.01,733.78 L810.01,733.78 L811.01,733.79 L812.01,733.79 L813.01,733.80 L814.01,733.80 L815.01,733.80 L816.01,733.81 L817.01,733.81 L818.01,733.82 L819.01,733.82 L820.01,733.83 L821.01,733.83 L822.01,733.83 L823.01,733.84 L824.01,733.84 L825.01,733.85 L826.01,733.85 L827.01,733.86 L828.01,733.86 L829.01,733.87 L830.01,733.87 L831.01,733.88 L832.01,733.88 L833.01,733.89 L834.01,733.89 L835.01,733.89 L836.01,733.90 L837.01,733.90 L838.01,733.91 L839.01,733.91 L840.01,733.92 L841.01,733.92 L842.01,733.93 L843.01,733.93 L844.01,733.94 L845.01,733.94 L846.01,733.95 L847.01,733.95 L848.01,733.96 L849.01,733.96 L850.01,733.97 L851.01,733.97 L852.01,733.98 L853.01,733.98 L854.01,733.99 L855.01,733.99 L856.01,734.00 L857.01,734.00 L858.01,734.01 L859.01,734.01 L860.01,734.02 L861.01,734.02 L862.01,734.03 L863.01,734.03 L864.01,734.04 L865.01,734.04 L866.01,734.05 L867.01,734.05 L868.01,734.06 L869.01,734.06 L870.01,734.07 L871.01,734.07 L872.01,734.08 L873.01,734.09 L874.01,734.09 L875.01,734.10 L876.01,734.10 L877.01,734.11 L878.01,734.11 L879.01,734.12 L880.01,734.12 L881.01,734.13 L882.01,734.13 L883.01,734.14 L884.01,734.15 L885.01,734.15 L886.01,734.16 L887.01,734.16 L888.01,734.17 L889.01,734.17 L890.01,734.18 L891.01,734.18 L892.01,734.19 L893.01,734.20 L894.01,734.20 L895.01,734.21 L896.01,734.21 L897.01,734.22 L898.01,734.22 L899.01,734.23 L900.01,734.24 L901.01,734.24 L902.01,734.25 L903.01,734.25 L904.01,734.26 L905.01,734.27 L906.01,734.27 L907.01,734.28 L908.01,734.28 L909.01,734.29 L910.01,734.30 L911.01,734.30 L912.01,734.31 L913.01,734.31 L914.01,734.32 L915.01,734.33 L916.01,734.33 L917.01,734.34 L918.01,734.35 L919.01,734.35 L920.01,734.36 L921.01,734.36 L922.01,734.37 L923.01,734.38 L924.01,734.38 L925.01,734.39 L926.01,734.40 L927.01,734.40 L928.01,734.41 L929.01,734.41 L930.01,734.42 L931.01,734.43 L932.01,734.43 L933.01,734.44 L934.01,734.45 L935.01,734.45 L936.01,734.46 L937.01,734.47 L938.01,734.47 L939.01,734.48 L940.01,734.49 L941.01,734.49 L942.01,734.50 L941.99,737.50 L940.99,737.49 L939.99,737.49 L938.99,737.48 L937.99,737.47 L936.99,737.47 L935.99,737.46 L934.99,737.45 L933.99,737.45 L932.99,737.44 L931.99,737.43 L930.99,737.43 L929.99,737.42 L928.99,737.41 L927.99,737.41 L926.99,737.40 L925.99,737.40 L924.99,737.39 L923.99,737.38 L922.99,737.38 L921.99,737.37 L920.99,737.36 L919.99,737.36 L918.99,737.35 L917.99,737.35 L916.99,737.34 L915.99,737.33 L914.99,737.33 L913.99,737.32 L912.99,737.31 L911.99,737.31 L910.99,737.30 L909.99,737.30 L908.99,737.29 L907.99,737.28 L906.99,737.28 L905.99,737.27 L904.99,737.27 L903.99,737.26 L902.99,737.25 L901.99,737.25 L900.99,737.24 L899.99,737.24 L898.99,737.23 L897.99,737.22 L896.99,737.22 L895.99,737.21 L894.99,737.21 L893.99,737.20 L892.99,737.20 L891.99,737.19 L890.99,737.18 L889.99,737.18 L888.99,737.17 L887.99,737.17 L886.99,737.16 L885.99,737.16 L884.99,737.15 L883.99,737.15 L882.99,737.14 L881.99,737.13 L880.99,737.13 L879.99,737.12 L878.99,737.12 L877.99,737.11 L876.99,737.11 L875.99,737.10 L874.99,737.10 L873.99,737.09 L872.99,737.09 L871.99,737.08 L870.99,737.07 L869.99,737.07 L868.99,737.06 L867.99,737.06 L866.99,737.05 L865.99,737.05 L864.99,737.04 L863.99,737.04 L862.99,737.03 L861.99,737.03 L860.99,737.02 L859.99,737.02 L858.99,737.01 L857.99,737.01 L856.99,737.00 L855.99,737.00 L854.99,736.99 L853.99,736.99 L852.99,736.98 L851.99,736.98 L850.99,736.97 L849.99,736.97 L848.99,736.96 L847.99,736.96 L846.99,736.95 L845.99,736.95 L844.99,736.94 L843.99,736.94 L842.99,736.93 L841.99,736.93 L840.99,736.92 L839.99,736.92 L838.99,736.91 L837.99,736.91 L836.99,736.90 L835.99,736.90 L834.99,736.89 L833.99,736.89 L832.99,736.89 L831.99,736.88 L830.99,736.88 L829.99,736.87 L828.99,736.87 L827.99,736.86 L826.99,736.86 L825.99,736.85 L824.99,736.85 L823.99,736.84 L822.99,736.84 L821.99,736.83 L820.99,736.83 L819.99,736.83 L818.99,736.82 L817.99,736.82 L816.99,736.81 L815.99,736.81 L814.99,736.80 L813.99,736.80 L812.99,736.80 L811.99,736.79 L810.99,736.79 L809.99,736.78 L808.99,736.78 L807.99,736.77 L806.99,736.77 L805.99,736.76 L804.99,736.76 L803.99,736.76 L802.99,736.75 L801.99,736.75 L800.99,736.74 L799.99,736.74 L798.99,736.74 L797.99,736.73 L796.99,736.73 L795.99,736.72 L794.99,736.72 L793.99,736.71 L792.99,736.71 L791.99,736.71 L790.99,736.70 L789.99,736.70 L788.99,736.69 L787.99,736.69 L786.99,736.69 L785.99,736.68 L784.99,736.68 L783.99,736.67 L782.99,736.67 L781.99,736.67 L780.99,736.66 L779.99,736.66 L778.99,736.66 L777.99,736.65 L776.99,736.65 L775.99,736.64 L774.99,736.64 L773.99,736.64 L772.99,736.63 L771.99,736.63 L770.99,736.62 L769.99,736.62 L768.99,736.62 L767.99,736.61 L766.99,736.61 L765.99,736.61 L764.99,736.60 L763.99,736.60 L762.99,736.59 L761.99,736.59 L760.99,736.59 L759.99,736.58 L758.99,736.58 L757.99,736.58 L756.99,736.57 L755.99,736.57 L754.99,736.57 L753.99,736.56 L752.99,736.56 L751.99,736.55 L750.99,736.55 L749.99,736.55 L748.99,736.54 L747.99,736.54 L746.99,736.54 L745.99,736.53 L744.99,736.53 L743.99,736.53 L742.99,736.52 L741.99,736.52 L740.99,736.52 L739.99,736.51 L738.99,736.51 L737.99,736.51 L736.99,736.50 L735.99,736.50 L734.99,736.50 L733.99,736.49 L733.00,736.49 L732.00,736.49 L731.00,736.48 L730.00,736.48 L729.00,736.48 L728.00,736.47 L727.00,736.47 L726.00,736.47 L725.00,736.46 L724.00,736.46 L723.00,736.46 L722.00,736.45 L721.00,736.45 L720.00,736.45 L719.00,736.44 L718.00,736.44 L717.00,736.44 L716.00,736.43 L715.00,736.43 L714.00,736.43 L713.00,736.43 L712.00,736.42 L711.00,736.42 L710.00,736.42 L709.00,736.41 L708.00,736.41 L707.00,736.41 L706.00,736.40 L705.00,736.40 L704.00,736.40 L703.00,736.39 L702.00,736.39 L701.00,736.39 L700.00,736.39 L699.00,736.38 L698.00,736.38 L697.00,736.38 L696.00,736.37 L695.00,736.37 L694.00,736.37 L693.00,736.36 L692.00,736.36 L691.00,736.36 L690.00,736.36 L689.00,736.35 L688.00,736.35 L687.00,736.35 L686.00,736.34 L685.00,736.34 L683.99,736.34 L682.99,736.33 L681.99,736.33 L680.99,736.33 L679.99,736.32 L678.99,736.32 L677.99,736.31 L676.99,736.31 L675.99,736.31 L674.99,736.30 L673.99,736.30 L672.99,736.30 L671.99,736.29 L670.99,736.29 L669.99,736.28 L668.99,736.28 L667.99,736.27 L666.99,736.27 L665.99,736.26 L664.99,736.26 L663.99,736.25 L662.99,736.25 L661.99,736.24 L660.99,736.24 L659.99,736.23 L658.99,736.23 L657.99,736.22 L656.99,736.21 L655.99,736.21 L654.99,736.20 L653.99,736.19 L652.99,736.19 L651.99,736.18 L650.99,736.17 L649.99,736.17 L648.99,736.16 L647.99,736.15 L646.99,736.14 L645.99,736.13 L644.99,736.13 L643.99,736.12 L642.99,736.11 L641.99,736.10 L640.99,736.09 L639.99,736.08 L638.99,736.07 L637.99,736.06 L636.98,736.05 L635.98,736.04 L634.98,736.03 L633.98,736.02 L632.98,736.01 L631.98,736.00 L630.98,735.99 L629.98,735.97 L628.98,735.96 L627.98,735.95 L626.98,735.94 L625.98,735.92 L624.98,735.91 L623.98,735.90 L622.98,735.88 L621.98,735.87 L620.98,735.86 L619.98,735.84 L618.98,735.83 L617.98,735.81 L616.98,735.79 L615.98,735.78 L614.98,735.76 L613.97,735.75 L612.97,735.73 L611.97,735.71 L610.97,735.69 L609.97,735.68 L608.97,735.66 L607.97,735.64 L606.97,735.62 L605.97,735.60 L604.97,735.58 L603.97,735.56 L602.97,735.54 L601.97,735.52 L600.97,735.50 L599.97,735.48 L598.97,735.46 L597.97,735.43 L596.97,735.41 L595.97,735.39 L594.96,735.37 L593.96,735.34 L592.96,735.32 L591.96,735.29 L590.96,735.27 L589.96,735.24 L588.96,735.22 L587.96,735.19 L586.96,735.16 L585.96,735.14 L584.96,735.11 L583.96,735.08 L582.96,735.05 L581.96,735.02 L580.96,734.99 L579.95,734.96 L578.95,734.93 L577.95,734.90 L576.95,734.87 L575.95,734.84 L574.95,734.81 L573.95,734.77 L572.95,734.74 L571.95,734.71 L570.95,734.67 L569.95,734.64 L568.95,734.60 L567.95,734.57 L566.95,734.53 L565.94,734.49 L564.94,734.46 L563.94,734.42 L562.94,734.38 L561.94,734.34 L560.94,734.30 L559.94,734.26 L558.94,734.22 L557.94,734.18 L556.94,734.14 L555.94,734.10 L554.94,734.06 L553.94,734.01 L552.93,733.97 L551.93,733.92 L550.93,733.88 L549.93,733.83 L548.93,733.79 L547.93,733.74 L546.93,733.69 L545.93,733.65 L544.93,733.60 L543.93,733.55 L542.93,733.50 L541.92,733.45 L540.92,733.40 L539.92,733.35 L538.92,733.29 L537.92,733.24 L536.92,733.19 L535.92,733.13 L534.92,733.08 L533.92,733.02 L532.92,732.97 L531.92,732.91 L530.91,732.86 L529.91,732.80 L528.91,732.74 L527.91,732.68 L526.91,732.62 L525.91,732.56 L524.91,732.50 L523.91,732.44 L522.91,732.37 L521.91,732.31 L520.90,732.25 L519.90,732.18 L518.90,732.12 L517.90,732.05 L516.90,731.98 L515.90,731.92 L514.90,731.85 L513.90,731.78 L512.90,731.71 L511.89,731.64 L510.89,731.57 L509.89,731.50 L508.89,731.43 L507.89,731.35 L506.89,731.28 L505.89,731.20 L504.89,731.13 L503.89,731.05 L502.88,730.97 L501.88,730.90 L500.88,730.82 L499.88,730.74 L498.88,730.66 L497.88,730.58 L496.88,730.50 L495.88,730.41 L494.88,730.33 L493.87,730.25 L492.87,730.16 L491.87,730.08 L490.87,729.99 L489.87,729.90 L488.87,729.81 L487.87,729.73 L486.87,729.64 L485.86,729.54 L484.86,729.45 L483.86,729.36 L482.86,729.27 L481.86,729.17 L480.86,729.08 L479.86,728.98 L478.86,728.89 L477.85,728.79 L476.85,728.69 L475.85,728.59 L474.85,728.49 L473.85,728.39 L472.85,728.29 L471.85,728.18 L470.85,728.08 L469.84,727.98 L468.84,727.87 L467.84,727.76 L466.84,727.66 L465.84,727.55 L464.84,727.44 L463.84,727.33 L462.84,727.22 L461.83,727.11 L460.83,726.99 L459.83,726.88 L458.83,726.76 L457.83,726.65 L456.83,726.53 L455.83,726.41 L454.82,726.29 L453.82,726.18 L452.82,726.05 L451.82,725.93 L450.82,725.81 L449.82,725.69 L448.82,725.56 L447.81,725.44 L446.81,725.31 L445.81,725.18 L444.81,725.05 L443.81,724.92 L442.81,724.79 L441.81,724.66 L440.80,724.53 L439.80,724.39 L438.80,724.26 L437.80,724.12 L436.80,723.99 L435.80,723.85 L434.80,723.71 L433.79,723.57 L432.79,723.43 L431.79,723.29 L430.79,723.14 L429.79,723.00 L428.79,722.85 L427.78,722.71 L426.78,722.56 L425.78,722.41 L424.78,722.26 L423.78,722.11 L422.78,721.96 L421.78,721.80 L420.77,721.65 L419.77,721.49 L418.77,721.34 L417.77,721.18 L416.77,721.02 L415.77,720.86 L414.76,720.70 L413.76,720.54 L412.76,720.37 L411.76,720.21 L410.76,720.04 L409.76,719.88 L408.75,719.71 L407.75,719.54 L406.75,719.37 L405.75,719.20 L404.75,719.02 L403.75,718.85 L402.75,718.68 L401.74,718.50 L400.74,718.32 L399.74,718.14 L398.74,717.96 L397.74,717.78 L396.74,717.60 L395.73,717.42 L394.73,717.23 L393.73,717.04 L392.73,716.86 L391.73,716.67 L390.72,716.48 L389.72,716.29 L388.72,716.09 L387.72,715.90 L386.72,715.70 L385.71,715.50 L384.71,715.30 L383.71,715.10 L382.71,714.90 L381.71,714.70 L380.70,714.49 L379.70,714.28 L378.70,714.07 L377.70,713.86 L376.70,713.65 L375.69,713.44 L374.69,713.22 L373.69,713.00 L372.69,712.78 L371.68,712.56 L370.68,712.34 L369.68,712.11 L368.68,711.89 L367.67,711.66 L366.67,711.43 L365.67,711.19 L364.67,710.96 L363.66,710.72 L362.66,710.48 L361.66,710.24 L360.66,710.00 L359.65,709.75 L358.65,709.51 L357.65,709.26 L356.65,709.00 L355.64,708.75 L354.64,708.49 L353.64,708.24 L352.63,707.97 L351.63,707.71 L350.63,707.45 L349.63,707.18 L348.62,706.91 L347.62,706.64 L346.62,706.36 L345.61,706.08 L344.61,705.80 L343.61,705.52 L342.61,705.24 L341.60,704.95 L340.60,704.66 L339.60,704.37 L338.59,704.07 L337.59,703.78 L336.59,703.48 L335.58,703.17 L334.58,702.87 L333.58,702.56 L332.58,702.25 L331.57,701.93 L330.57,701.62 L329.57,701.30 L328.56,700.98 L327.56,700.65 L326.56,700.32 L325.55,699.99 L324.55,699.66 L323.55,699.32 L322.54,698.98 L321.54,698.64 L320.54,698.30 L319.53,697.95 L318.53,697.60 L317.53,697.24 L316.53,696.88 L315.52,696.52 L314.52,696.16 L313.52,695.79 L312.51,695.42 L311.51,695.05 L310.51,694.67 L309.50,694.29 L308.50,693.91 L307.50,693.52 L306.49,693.13 L305.49,692.74 L304.49,692.34 L303.48,691.94 L302.48,691.54 L301.48,691.13 L300.48,690.72 L299.47,690.31 L298.47,689.89 L297.47,689.48 L296.46,689.05 L295.46,688.63 L294.46,688.20 L293.46,687.77 L292.45,687.33 L291.45,686.89 L290.45,686.45 L289.44,686.01 L288.44,685.56 L287.44,685.11 L286.44,684.65 L285.43,684.19 L284.43,683.73 L283.43,683.27 L282.43,682.80 L281.42,682.33 L280.42,681.86 L279.42,681.38 L278.42,680.90 L277.41,680.41 L276.41,679.93 L275.41,679.44 L274.41,678.94 L273.40,678.45 L272.40,677.95 L271.40,677.44 L270.40,676.94 L269.39,676.43 L268.39,675.92 L267.39,675.40 L266.39,674.88 L265.39,674.36 L264.38,673.83 L263.38,673.30 L262.38,672.77 L261.38,672.24 L260.37,671.70 L259.37,671.16 L258.37,670.61 L257.37,670.06 L256.37,669.51 L255.36,668.96 L254.36,668.40 L253.36,667.84 L252.36,667.27 L251.36,666.71 L250.36,666.14 L249.35,665.56 L248.35,664.99 L247.35,664.41 L246.35,663.82 L245.35,663.24 L244.34,662.65 L243.34,662.05 L242.34,661.46 L241.34,660.86 L240.34,660.26 L239.34,659.65 L238.33,659.04 L237.33,658.43 L236.33,657.81 L235.33,657.20 L234.33,656.57 L233.33,655.95 L232.33,655.32 L231.32,654.69 L230.32,654.06 L229.32,653.42 L228.32,652.78 L227.32,652.13 L226.32,651.49 L225.32,650.84 L224.31,650.18 L223.31,649.53 L222.31,648.87 L221.31,648.20 L220.31,647.54 L219.31,646.86 L218.31,646.19 L217.30,645.51 L216.30,644.83 L215.30,644.15 L214.30,643.46 L213.30,642.77 L212.30,642.08 L211.30,641.38 L210.30,640.68 L209.29,639.98 L208.29,639.27 L207.29,638.56 L206.29,637.85 L205.29,637.13 L204.29,636.41 L203.29,635.68 L202.29,634.95 L201.29,634.22 L200.28,633.49 L199.28,632.75 L198.28,632.00 L197.28,631.26 L196.28,630.51 L195.28,629.75 L194.28,629.00 L193.28,628.23 L192.28,627.47 L191.28,626.70 L190.27,625.93 L189.27,625.15 L188.27,624.37 L187.27,623.59 L186.27,622.80 L185.27,622.01 L184.27,621.22 L183.27,620.42 L182.27,619.62 L181.27,618.81 L180.27,618.00 L179.27,617.19 L178.27,616.37 L177.26,615.55 L176.26,614.72 L175.26,613.89 L174.26,613.06 L173.26,612.22 L172.26,611.38 L171.26,610.54 L170.26,609.69 L169.26,608.83 L168.26,607.98 L167.26,607.12 L166.26,606.25 L165.26,605.38 L164.26,604.51 L163.26,603.63 L162.26,602.75 L161.26,601.86 L160.26,600.97 L159.25,600.08 L158.25,599.18 L157.25,598.28 L156.25,597.37 L155.25,596.47 L154.25,595.55 L153.25,594.64 L152.25,593.72 L151.25,592.80 L150.25,591.87 L149.25,590.94 L148.25,590.01 L147.25,589.08 L146.25,588.14 L145.25,587.21 L144.25,586.27 L143.25,585.32 L142.25,584.38 L141.25,583.44 L140.25,582.49 L139.25,581.54 L138.25,580.59 L137.25,579.64 L136.25,578.69 L135.25,577.73 L134.25,576.78 L133.25,575.83 L132.25,574.87 L131.25,573.92 L130.25,572.96 L129.25,572.01 L128.25,571.05 L127.25,570.10 L126.25,569.14 L125.25,568.19 L124.25,567.24 L123.25,566.28 L122.25,565.33 L121.25,564.38 L120.25,563.43 L119.25,562.48 L118.25,561.54 L117.25,560.59 L116.25,559.65 L115.25,558.70 L114.25,557.76 L113.25,556.83 L112.25,555.89 L111.25,554.96 L110.25,554.03 L109.25,553.10 L108.25,552.18 L107.25,551.26 L106.25,550.34 L105.25,549.43 L104.25,548.53 L103.25,547.63 L102.25,546.74 L101.26,545.86 L100.26,544.99 L99.26,544.13 L98.26,543.28 L97.26,542.44 L96.26,541.61 L95.26,540.80 L94.27,540.00 L93.27,539.21 L92.27,538.45 L91.28,537.69 L90.28,536.96 L89.29,536.24 L88.29,535.54 L87.30,534.86 L86.31,534.20 L85.31,533.56Z" fill="#3a9a5a" stroke="none"/>
<g stroke="#4472b0" stroke-width="1.7" fill="none" stroke-linecap="round">
<line x1="366.3" y1="453.1" x2="213.5" y2="696.7"/>
<polyline points="214.7,681.2 213.5,696.7 226.5,689.3"/>
</g>
<line x1="85.6" y1="19.6" x2="85.6" y2="738.6" stroke="#2a2a2a" stroke-width="1.4"/>
<line x1="84.8" y1="737.6" x2="942.6" y2="737.6" stroke="#2a2a2a" stroke-width="1.8"/>
<line x1="85.6" y1="737.60" x2="95.6" y2="737.60" stroke="#2a2a2a" stroke-width="1.3"/>
<line x1="85.6" y1="692.73" x2="91.6" y2="692.73" stroke="#2a2a2a" stroke-width="1.3"/>
<line x1="85.6" y1="647.85" x2="91.6" y2="647.85" stroke="#2a2a2a" stroke-width="1.3"/>
<line x1="85.6" y1="602.98" x2="91.6" y2="602.98" stroke="#2a2a2a" stroke-width="1.3"/>
<line x1="85.6" y1="558.10" x2="95.6" y2="558.10" stroke="#2a2a2a" stroke-width="1.3"/>
<line x1="85.6" y1="513.23" x2="91.6" y2="513.23" stroke="#2a2a2a" stroke-width="1.3"/>
<line x1="85.6" y1="468.35" x2="91.6" y2="468.35" stroke="#2a2a2a" stroke-width="1.3"/>
<line x1="85.6" y1="423.47" x2="91.6" y2="423.47" stroke="#2a2a2a" stroke-width="1.3"/>
<line x1="85.6" y1="378.60" x2="95.6" y2="378.60" stroke="#2a2a2a" stroke-width="1.3"/>
<line x1="85.6" y1="333.73" x2="91.6" y2="333.73" stroke="#2a2a2a" stroke-width="1.3"/>
<line x1="85.6" y1="288.85" x2="91.6" y2="288.85" stroke="#2a2a2a" stroke-width="1.3"/>
<line x1="85.6" y1="243.97" x2="91.6" y2="243.97" stroke="#2a2a2a" stroke-width="1.3"/>
<line x1="85.6" y1="199.10" x2="95.6" y2="199.10" stroke="#2a2a2a" stroke-width="1.3"/>
<line x1="85.6" y1="154.23" x2="91.6" y2="154.23" stroke="#2a2a2a" stroke-width="1.3"/>
<line x1="85.6" y1="109.35" x2="91.6" y2="109.35" stroke="#2a2a2a" stroke-width="1.3"/>
<line x1="85.6" y1="64.48" x2="91.6" y2="64.48" stroke="#2a2a2a" stroke-width="1.3"/>
<line x1="85.6" y1="19.60" x2="95.6" y2="19.60" stroke="#2a2a2a" stroke-width="1.3"/>
<line x1="128.42" y1="737.6" x2="128.42" y2="729.1" stroke="#2a2a2a" stroke-width="1.2"/>
<line x1="171.24" y1="737.6" x2="171.24" y2="729.1" stroke="#2a2a2a" stroke-width="1.2"/>
<line x1="214.06" y1="737.6" x2="214.06" y2="729.1" stroke="#2a2a2a" stroke-width="1.2"/>
<line x1="256.88" y1="737.6" x2="256.88" y2="724.1" stroke="#2a2a2a" stroke-width="1.2"/>
<line x1="299.70" y1="737.6" x2="299.70" y2="729.1" stroke="#2a2a2a" stroke-width="1.2"/>
<line x1="342.52" y1="737.6" x2="342.52" y2="729.1" stroke="#2a2a2a" stroke-width="1.2"/>
<line x1="385.34" y1="737.6" x2="385.34" y2="729.1" stroke="#2a2a2a" stroke-width="1.2"/>
<line x1="428.16" y1="737.6" x2="428.16" y2="724.1" stroke="#2a2a2a" stroke-width="1.2"/>
<line x1="470.98" y1="737.6" x2="470.98" y2="729.1" stroke="#2a2a2a" stroke-width="1.2"/>
<line x1="513.80" y1="737.6" x2="513.80" y2="729.1" stroke="#2a2a2a" stroke-width="1.2"/>
<line x1="556.62" y1="737.6" x2="556.62" y2="729.1" stroke="#2a2a2a" stroke-width="1.2"/>
<line x1="599.44" y1="737.6" x2="599.44" y2="724.1" stroke="#2a2a2a" stroke-width="1.2"/>
<line x1="642.26" y1="737.6" x2="642.26" y2="729.1" stroke="#2a2a2a" stroke-width="1.2"/>
<line x1="685.08" y1="737.6" x2="685.08" y2="729.1" stroke="#2a2a2a" stroke-width="1.2"/>
<line x1="727.90" y1="737.6" x2="727.90" y2="729.1" stroke="#2a2a2a" stroke-width="1.2"/>
<line x1="770.72" y1="737.6" x2="770.72" y2="724.1" stroke="#2a2a2a" stroke-width="1.2"/>
<line x1="813.54" y1="737.6" x2="813.54" y2="729.1" stroke="#2a2a2a" stroke-width="1.2"/>
<line x1="856.36" y1="737.6" x2="856.36" y2="729.1" stroke="#2a2a2a" stroke-width="1.2"/>
<line x1="899.18" y1="737.6" x2="899.18" y2="729.1" stroke="#2a2a2a" stroke-width="1.2"/>
<line x1="942.00" y1="737.6" x2="942.00" y2="724.1" stroke="#2a2a2a" stroke-width="1.2"/>
<g opacity="0.995">
<text transform="translate(135.51,63.80) scale(0.781,1)" font-size="40.0" font-style="italic">M</text>
<text transform="translate(174.19,67.60) scale(1.154,1)" font-size="40.0">=</text>
<text transform="translate(211.97,63.80) scale(0.895,1)" font-size="40.0">0.5,</text>
<text transform="translate(272.40,63.80) scale(0.835,1)" font-size="40.0" font-style="italic">P</text>
<text transform="translate(286.72,72.00) scale(1.120,1)" font-size="29.0" font-style="italic">r</text>
<text transform="translate(312.13,67.60) scale(1.186,1)" font-size="40.0">=</text>
<text transform="translate(349.19,63.80) scale(0.884,1)" font-size="40.0">0.71,</text>
<text transform="translate(428.67,63.80) scale(0.830,1)" font-size="40.0" font-style="italic">S</text>
<text transform="translate(445.85,72.00) scale(0.974,1)" font-size="29.0" font-style="italic">c</text>
<text transform="translate(470.66,67.60) scale(1.170,1)" font-size="40.0">=</text>
<text transform="translate(508.14,63.80) scale(0.911,1)" font-size="40.0">0.22,</text>
<text transform="translate(584.00,63.80) scale(0.835,1)" font-size="40.0" font-style="italic">P</text>
<text transform="translate(602.29,72.00) scale(1.120,1)" font-size="29.0" font-style="italic">s</text>
<text transform="translate(626.03,67.60) scale(1.186,1)" font-size="40.0">=</text>
<text transform="translate(663.78,63.80) scale(0.886,1)" font-size="40.0">0.2,</text>
<text transform="translate(722.16,63.80) scale(1.047,1)" font-size="40.0" font-style="italic">τ</text>
<text transform="translate(749.63,67.60) scale(1.186,1)" font-size="40.0">=</text>
<text transform="translate(787.25,63.80) scale(0.904,1)" font-size="40.0">0.1,</text>
<text transform="translate(845.39,63.80) scale(1.120,1)" font-size="40.0" font-style="italic" stroke="#fff" stroke-width="0.6">γ</text>
<text transform="translate(878.29,67.60) scale(1.154,1)" font-size="40.0">=</text>
<text transform="translate(915.37,63.80) scale(0.896,1)" font-size="40.0">0.1</text>
<text transform="translate(181.07,109.80) scale(0.965,1)" font-size="40.0" font-style="italic">λ</text>
<text transform="translate(207.93,113.60) scale(1.186,1)" font-size="40.0">=</text>
<text transform="translate(244.95,109.80) scale(0.904,1)" font-size="40.0">0.4,</text>
<text transform="translate(304.14,109.80) scale(0.969,1)" font-size="40.0" font-style="italic">ξ</text>
<text transform="translate(332.99,113.60) scale(1.154,1)" font-size="40.0">=</text>
<text transform="translate(370.62,109.80) scale(0.973,1)" font-size="40.0" font-style="italic">ε</text>
<text transform="translate(396.93,113.60) scale(1.186,1)" font-size="40.0">=</text>
<text transform="translate(433.95,109.80) scale(0.904,1)" font-size="40.0">0.2,</text>
<text transform="translate(493.56,109.80) scale(0.926,1)" font-size="40.0" font-style="italic">w</text>
<text transform="translate(530.15,113.60) scale(1.176,1)" font-size="40.0">=</text>
<text transform="translate(567.09,109.80) scale(0.941,1)" font-size="40.0">0.3,</text>
<text transform="translate(625.74,109.80) scale(1.101,1)" font-size="40.0" font-style="italic" stroke="#fff" stroke-width="0.6">n</text>
<text transform="translate(657.09,113.60) scale(1.207,1)" font-size="40.0">=</text>
<text transform="translate(691.83,109.80) scale(1.075,1)" font-size="40.0">1,</text>
<text transform="translate(731.24,109.80) scale(0.769,1)" font-size="40.0" font-style="italic">A</text>
<text transform="translate(762.05,113.60) scale(1.176,1)" font-size="40.0">=</text>
<text transform="translate(799.20,109.80) scale(0.759,1)" font-size="40.0" font-style="italic">B</text>
<text transform="translate(832.35,113.60) scale(1.176,1)" font-size="40.0">=</text>
<text transform="translate(869.35,109.80) scale(0.904,1)" font-size="40.0">0.4</text>
<text transform="translate(371.02,436.20) scale(0.788,1)" font-size="40.0" font-style="italic">K</text>
<text transform="translate(405.30,440.00) scale(1.149,1)" font-size="40.0">=</text>
<text transform="translate(441.97,436.20) scale(0.896,1)" font-size="40.0">0,</text>
<text transform="translate(473.81,436.20) scale(0.929,1)" font-size="40.0">0.3,</text>
<text transform="translate(534.52,436.20) scale(0.925,1)" font-size="40.0">0.7,</text>
<text transform="translate(593.63,436.20) scale(0.935,1)" font-size="40.0">1.0</text>
<text transform="translate(537.35,525.70) scale(0.723,1)" font-size="40.0" font-style="italic">G</text>
<text transform="translate(557.32,534.00) scale(1.120,1)" font-size="29.0" font-style="italic">r</text>
<text transform="translate(582.07,529.50) scale(1.213,1)" font-size="40.0">=</text>
<text transform="translate(620.55,525.70) scale(0.727,1)" font-size="40.0" font-style="italic">G</text>
<text transform="translate(639.99,534.00) scale(1.043,1)" font-size="29.0" font-style="italic">c</text>
<text transform="translate(664.80,529.50) scale(1.202,1)" font-size="40.0">=</text>
<text transform="translate(701.09,525.70) scale(0.946,1)" font-size="40.0">0.50</text>
<text transform="translate(611.98,587.80) scale(0.788,1)" font-size="40.0" font-style="italic">A</text>
<text transform="translate(632.13,587.80) scale(0.914,1)" font-size="40.0" font-style="italic">s</text>
<text transform="translate(648.23,587.80) scale(0.914,1)" font-size="40.0" font-style="italic">s</text>
<text transform="translate(664.68,587.80) scale(0.882,1)" font-size="40.0" font-style="italic">i</text>
<text transform="translate(676.54,587.80) scale(0.907,1)" font-size="40.0" font-style="italic">s</text>
<text transform="translate(693.38,587.80) scale(1.077,1)" font-size="40.0" font-style="italic">t</text>
<text transform="translate(706.80,587.80) scale(1.000,1)" font-size="40.0" font-style="italic">i</text>
<text transform="translate(717.24,587.80) scale(1.036,1)" font-size="40.0" font-style="italic">n</text>
<text transform="translate(740.60,587.80) scale(0.963,1)" font-size="40.0" font-style="italic">g</text>
<text transform="translate(769.39,587.80) scale(1.120,1)" font-size="40.0" font-style="italic">f</text>
<text transform="translate(788.20,587.80) scale(1.000,1)" font-size="40.0" font-style="italic">l</text>
<text transform="translate(800.42,587.80) scale(0.818,1)" font-size="40.0" font-style="italic">o</text>
<text transform="translate(816.77,587.80) scale(1.035,1)" font-size="40.0" font-style="italic">w</text>
<text transform="translate(4.97,306.60) scale(0.964,1)" font-size="40.0" font-style="italic">θ</text>
<text transform="translate(26.88,306.60) scale(1.120,1)" font-size="40.0">(</text>
<text transform="translate(39.81,306.60) scale(0.994,1)" font-size="40.0" font-style="italic">η</text>
<text transform="translate(59.74,306.60) scale(1.048,1)" font-size="40.0">)</text>
<text transform="translate(513.44,806.50) scale(0.976,1)" font-size="40.0" font-style="italic">η</text>
<text transform="translate(46.23,29.00) scale(0.620,1)" font-size="35.0">0.8</text>
<text transform="translate(46.13,206.60) scale(0.625,1)" font-size="35.0">0.6</text>
<text transform="translate(46.24,386.60) scale(0.614,1)" font-size="35.0">0.4</text>
<text transform="translate(46.21,566.60) scale(0.635,1)" font-size="35.0">0.2</text>
<text transform="translate(46.22,745.90) scale(0.625,1)" font-size="35.0">0.0</text>
<text transform="translate(78.98,776.00) scale(0.734,1)" font-size="34.7">0</text>
<text transform="translate(249.47,776.00) scale(0.745,1)" font-size="34.7">2</text>
<text transform="translate(421.09,776.00) scale(0.736,1)" font-size="34.7">4</text>
<text transform="translate(591.70,776.00) scale(0.717,1)" font-size="34.7">6</text>
<text transform="translate(763.63,776.00) scale(0.700,1)" font-size="34.7">8</text>
<text transform="translate(930.10,776.00) scale(0.609,1)" font-size="34.7">10</text>
</g>
<rect x="829.1" y="465.8" width="2.1" height="2.1" fill="#555"/>
</svg>
</body></html>
